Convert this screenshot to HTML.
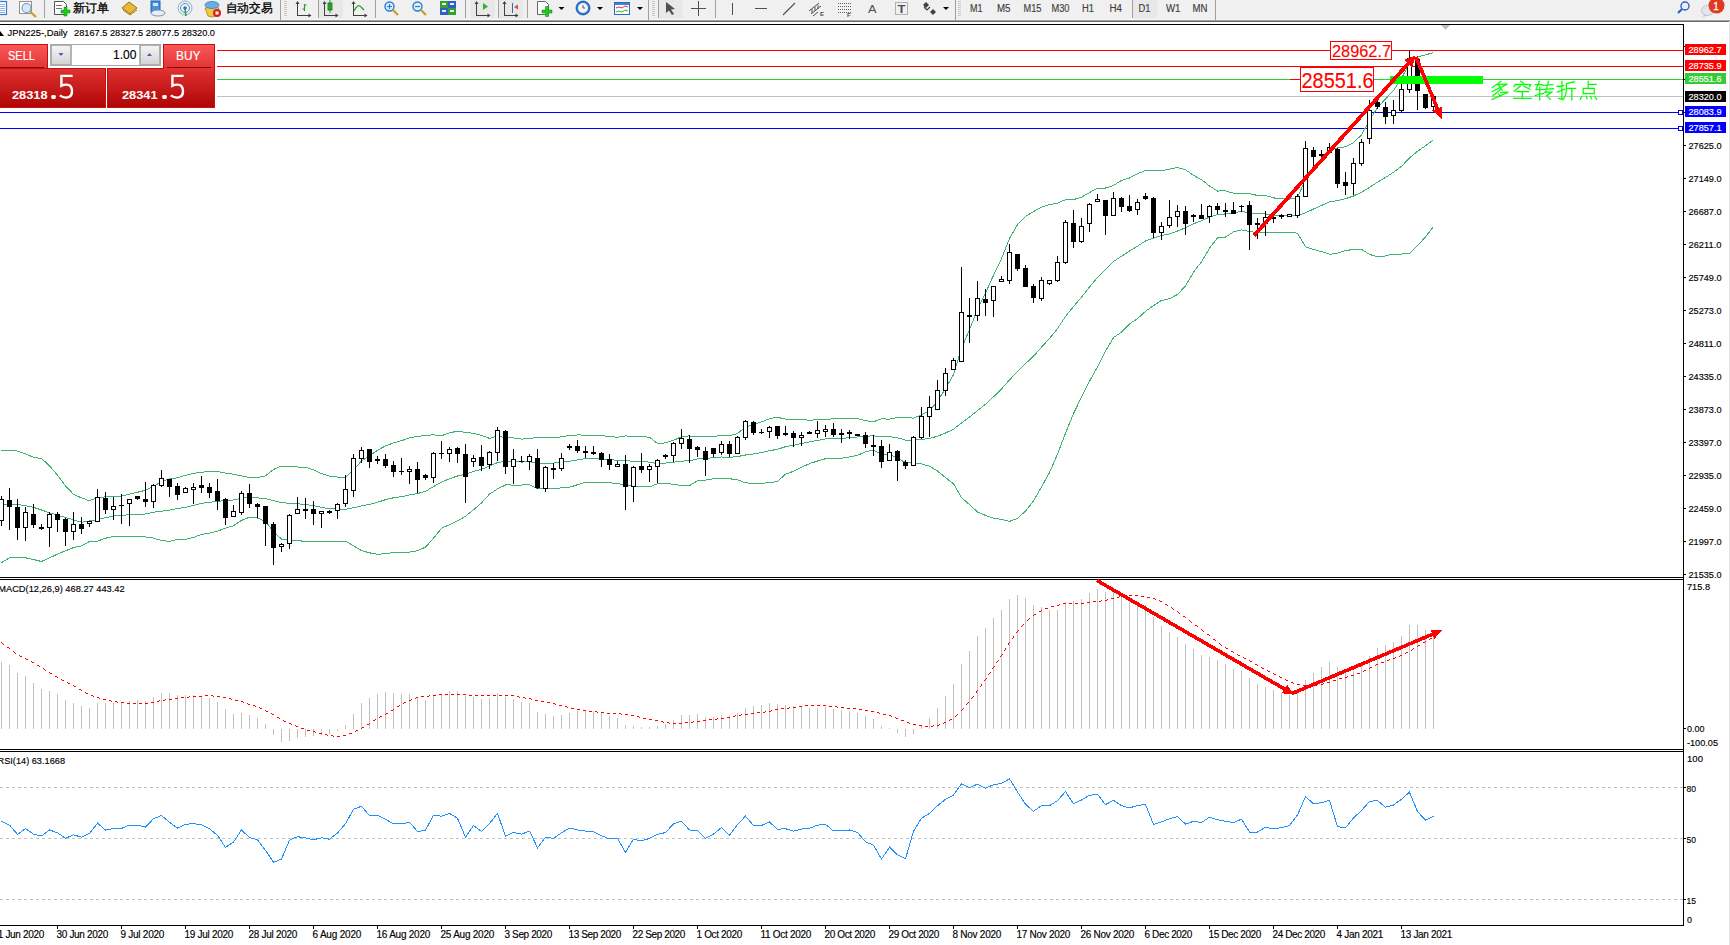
<!DOCTYPE html>
<html><head><meta charset="utf-8">
<style>
html,body{margin:0;padding:0;background:#fff;}
body{width:1730px;height:945px;overflow:hidden;position:relative;font-family:"Liberation Sans",sans-serif;}
svg{position:absolute;left:0;top:0;display:block;}
text{font-family:"Liberation Sans",sans-serif;}
</style></head><body>
<svg width="1730" height="945" viewBox="0 0 1730 945">
<g>
<rect x="0" y="0" width="1730" height="19" fill="#f0f0f0" shape-rendering="crispEdges"/>
<rect x="0" y="19" width="1730" height="1" fill="#f6f6f6" shape-rendering="crispEdges"/>
<rect x="0" y="20" width="1730" height="1" fill="#a0a0a0" shape-rendering="crispEdges"/>
<rect x="0" y="21" width="1729" height="1" fill="#6a6a6a" shape-rendering="crispEdges"/>
<rect x="44" y="0" width="1" height="18" fill="#a0a0a0" shape-rendering="crispEdges"/>
<rect x="280" y="0" width="1" height="20" fill="#a0a0a0" shape-rendering="crispEdges"/>
<rect x="318" y="0" width="1" height="18" fill="#a0a0a0" shape-rendering="crispEdges"/>
<rect x="375" y="0" width="1" height="18" fill="#a0a0a0" shape-rendering="crispEdges"/>
<rect x="465" y="0" width="1" height="18" fill="#a0a0a0" shape-rendering="crispEdges"/>
<rect x="498" y="0" width="1" height="18" fill="#a0a0a0" shape-rendering="crispEdges"/>
<rect x="527" y="0" width="1" height="18" fill="#a0a0a0" shape-rendering="crispEdges"/>
<rect x="648" y="0" width="1" height="20" fill="#a0a0a0" shape-rendering="crispEdges"/>
<rect x="658" y="0" width="1" height="18" fill="#a0a0a0" shape-rendering="crispEdges"/>
<rect x="715" y="0" width="1" height="18" fill="#a0a0a0" shape-rendering="crispEdges"/>
<rect x="955" y="0" width="1" height="20" fill="#a0a0a0" shape-rendering="crispEdges"/>
<rect x="1132" y="0" width="1" height="18" fill="#a0a0a0" shape-rendering="crispEdges"/>
<rect x="1215" y="0" width="1" height="20" fill="#a0a0a0" shape-rendering="crispEdges"/>
<rect x="284" y="1" width="3" height="16" fill="#c8c8c8" shape-rendering="crispEdges"/>
<rect x="284" y="2" width="3" height="1" fill="#f0f0f0" shape-rendering="crispEdges"/>
<rect x="284" y="4" width="3" height="1" fill="#f0f0f0" shape-rendering="crispEdges"/>
<rect x="284" y="6" width="3" height="1" fill="#f0f0f0" shape-rendering="crispEdges"/>
<rect x="284" y="8" width="3" height="1" fill="#f0f0f0" shape-rendering="crispEdges"/>
<rect x="284" y="10" width="3" height="1" fill="#f0f0f0" shape-rendering="crispEdges"/>
<rect x="284" y="12" width="3" height="1" fill="#f0f0f0" shape-rendering="crispEdges"/>
<rect x="284" y="14" width="3" height="1" fill="#f0f0f0" shape-rendering="crispEdges"/>
<rect x="284" y="16" width="3" height="1" fill="#f0f0f0" shape-rendering="crispEdges"/>
<rect x="652" y="1" width="3" height="16" fill="#c8c8c8" shape-rendering="crispEdges"/>
<rect x="652" y="2" width="3" height="1" fill="#f0f0f0" shape-rendering="crispEdges"/>
<rect x="652" y="4" width="3" height="1" fill="#f0f0f0" shape-rendering="crispEdges"/>
<rect x="652" y="6" width="3" height="1" fill="#f0f0f0" shape-rendering="crispEdges"/>
<rect x="652" y="8" width="3" height="1" fill="#f0f0f0" shape-rendering="crispEdges"/>
<rect x="652" y="10" width="3" height="1" fill="#f0f0f0" shape-rendering="crispEdges"/>
<rect x="652" y="12" width="3" height="1" fill="#f0f0f0" shape-rendering="crispEdges"/>
<rect x="652" y="14" width="3" height="1" fill="#f0f0f0" shape-rendering="crispEdges"/>
<rect x="652" y="16" width="3" height="1" fill="#f0f0f0" shape-rendering="crispEdges"/>
<rect x="958" y="1" width="3" height="16" fill="#c8c8c8" shape-rendering="crispEdges"/>
<rect x="958" y="2" width="3" height="1" fill="#f0f0f0" shape-rendering="crispEdges"/>
<rect x="958" y="4" width="3" height="1" fill="#f0f0f0" shape-rendering="crispEdges"/>
<rect x="958" y="6" width="3" height="1" fill="#f0f0f0" shape-rendering="crispEdges"/>
<rect x="958" y="8" width="3" height="1" fill="#f0f0f0" shape-rendering="crispEdges"/>
<rect x="958" y="10" width="3" height="1" fill="#f0f0f0" shape-rendering="crispEdges"/>
<rect x="958" y="12" width="3" height="1" fill="#f0f0f0" shape-rendering="crispEdges"/>
<rect x="958" y="14" width="3" height="1" fill="#f0f0f0" shape-rendering="crispEdges"/>
<rect x="958" y="16" width="3" height="1" fill="#f0f0f0" shape-rendering="crispEdges"/>
<rect x="319" y="0" width="24" height="18" fill="#e8e8e8" shape-rendering="crispEdges"/>
<rect x="471" y="0" width="24" height="18" fill="#e8e8e8" shape-rendering="crispEdges"/>
<rect x="499" y="0" width="24" height="18" fill="#e8e8e8" shape-rendering="crispEdges"/>
<rect x="659" y="0" width="24" height="18" fill="#e8e8e8" shape-rendering="crispEdges"/>
<rect x="1133" y="0" width="24" height="18" fill="#e8e8e8" shape-rendering="crispEdges"/>
<rect x="-3.5" y="1.5" width="10" height="13" fill="#fff" stroke="#3a7cc8" stroke-width="1.2"/>
<rect x="0" y="4" width="5" height="1" fill="#8fb4e8"/>
<rect x="0" y="6" width="5" height="1" fill="#8fb4e8"/>
<rect x="0" y="8" width="5" height="1" fill="#8fb4e8"/>
<rect x="0" y="10" width="5" height="1" fill="#8fb4e8"/>
<rect x="0" y="12" width="5" height="1" fill="#8fb4e8"/>
<rect x="19.5" y="1.5" width="12" height="12" fill="#fff" stroke="#9a9080" stroke-width="1"/>
<circle cx="26.5" cy="8" r="4.5" fill="#d8e8f8" stroke="#6a9ad0" stroke-width="1.2"/>
<line x1="30" y1="11.5" x2="36" y2="17" stroke="#c8a020" stroke-width="2.2"/>
<path d="M54.5,1.5 h9 l3,3 v10 h-12 z" fill="#fff" stroke="#555" stroke-width="1"/>
<rect x="56" y="5" width="6" height="1" fill="#777"/><rect x="56" y="8" width="6" height="1" fill="#777"/>
<path d="M61,10 h3 v-3 h3 v3 h3 v3 h-3 v3 h-3 v-3 h-3 z" fill="#1ec81e" stroke="#108010" stroke-width="0.5"/>
<text x="73" y="12" font-size="12" fill="#000" stroke="#000" stroke-width="0.3" textLength="36" lengthAdjust="spacingAndGlyphs">新订单</text>
<path d="M122,8 l7,-6 l8,6 l-7,6 z" fill="#e8b838" stroke="#9a7010" stroke-width="1"/>
<path d="M123,10 l7,5 l7,-5" fill="none" stroke="#b08020" stroke-width="1"/>
<rect x="151" y="1" width="9" height="11" fill="#4a90e0" stroke="#2060b0" stroke-width="1"/>
<rect x="153" y="3" width="5" height="3" fill="#d0e4ff"/>
<ellipse cx="158" cy="13" rx="7" ry="3" fill="#e8eef6" stroke="#8090a8" stroke-width="1"/>
<circle cx="185" cy="8" r="7" fill="none" stroke="#8ab0d8" stroke-width="1"/>
<circle cx="185" cy="8" r="4.5" fill="none" stroke="#5a90c8" stroke-width="1"/>
<circle cx="185" cy="8" r="1.8" fill="#2a70c0"/>
<line x1="185" y1="9" x2="186" y2="16" stroke="#30a030" stroke-width="1.5"/>
<path d="M205,8 q6,-2 14,0 l-3,8 q-4,2 -8,0 z" fill="#f0c840" stroke="#b08810" stroke-width="0.8"/>
<ellipse cx="212" cy="5" rx="7" ry="3.5" fill="#6aaee0" stroke="#3a80c0" stroke-width="0.8"/>
<circle cx="217" cy="13" r="4" fill="#d82020"/><rect x="215.5" y="11.5" width="3" height="3" fill="#fff"/>
<text x="225.5" y="12" font-size="12" fill="#000" stroke="#000" stroke-width="0.3" textLength="47" lengthAdjust="spacingAndGlyphs">自动交易</text>
<g stroke="#404040" stroke-width="1" fill="none" shape-rendering="crispEdges">
<path d="M297.5,2 v13.5 h13"/><path d="M324.5,2 v13.5 h13"/><path d="M353.5,2 v13.5 h13"/>
<path d="M476.5,2 v13.5 h13"/><path d="M504.5,2 v13.5 h13"/>
</g>
<polygon points="295.5,4 299.5,4 297.5,1" fill="#404040"/><polygon points="308.5,13.5 308.5,17.5 311.5,15.5" fill="#404040"/>
<polygon points="322.5,4 326.5,4 324.5,1" fill="#404040"/><polygon points="335.5,13.5 335.5,17.5 338.5,15.5" fill="#404040"/>
<polygon points="351.5,4 355.5,4 353.5,1" fill="#404040"/><polygon points="364.5,13.5 364.5,17.5 367.5,15.5" fill="#404040"/>
<polygon points="474.5,4 478.5,4 476.5,1" fill="#404040"/><polygon points="487.5,13.5 487.5,17.5 490.5,15.5" fill="#404040"/>
<polygon points="502.5,4 506.5,4 504.5,1" fill="#404040"/><polygon points="515.5,13.5 515.5,17.5 518.5,15.5" fill="#404040"/>
<path d="M304.5,4 v7 M304.5,9 h-2 M304.5,5 h2" stroke="#20a020" stroke-width="1.2" fill="none"/>
<rect x="328" y="3" width="4" height="7" fill="#30c030" stroke="#107010" stroke-width="0.8"/><line x1="330" y1="0" x2="330" y2="13" stroke="#107010" stroke-width="0.8"/>
<path d="M354,11 q4,-8 7,-4 l3,3" fill="none" stroke="#20a020" stroke-width="1.2"/>
<circle cx="389.5" cy="6.5" r="4.5" fill="#e0f0ff" stroke="#2a7ad0" stroke-width="1.4"/><path d="M387,6.5 h5 M389.5,4 v5" stroke="#2a7ad0" stroke-width="1.2"/>
<line x1="393" y1="10" x2="398" y2="15" stroke="#c8a020" stroke-width="2.2"/>
<circle cx="417.5" cy="6.5" r="4.5" fill="#e0f0ff" stroke="#2a7ad0" stroke-width="1.4"/><path d="M415,6.5 h5" stroke="#2a7ad0" stroke-width="1.2"/>
<line x1="421" y1="10" x2="426" y2="15" stroke="#c8a020" stroke-width="2.2"/>
<rect x="440" y="1" width="8" height="7" fill="#30a030"/><rect x="448" y="1" width="8" height="7" fill="#3060c0"/><rect x="440" y="8" width="8" height="7" fill="#3060c0"/><rect x="448" y="8" width="8" height="7" fill="#30a030"/>
<g fill="#e8f0ff"><rect x="442" y="3" width="4" height="2"/><rect x="450" y="3" width="4" height="2"/><rect x="442" y="10" width="4" height="2"/><rect x="450" y="10" width="4" height="2"/></g>
<polygon points="483,3 483,10 488,6.5" fill="#30b030"/>
<rect x="512" y="3" width="1" height="10" fill="#2a6ac0"/><polygon points="514,7 518,4.5 518,9.5" fill="#e05020"/>
<path d="M537.5,1.5 h8 l3,3 v10 h-11 z" fill="#fff" stroke="#666" stroke-width="1"/>
<path d="M542,10 h3.5 v-3.5 h3 v3.5 h3.5 v3 h-3.5 v3.5 h-3 v-3.5 h-3.5 z" fill="#1ec81e" stroke="#108010" stroke-width="0.5"/>
<polygon points="558.5,7 564.5,7 561.5,10" fill="#000"/>
<polygon points="597,7 603,7 600,10" fill="#000"/>
<polygon points="637,7 643,7 640,10" fill="#000"/>
<circle cx="583" cy="8" r="7" fill="#2a7ad8" stroke="#1a50a0" stroke-width="0.8"/><circle cx="583" cy="8" r="5" fill="#f4f4f4"/><path d="M583,5 v3 h2" stroke="#333" stroke-width="0.8" fill="none"/>
<rect x="614.5" y="2.5" width="15" height="12" fill="#fff" stroke="#2a6ac0" stroke-width="1"/><rect x="615" y="3" width="14" height="2" fill="#4a80d0"/>
<path d="M616,8 l3,-1 l3,1 l3,-2 l3,1" stroke="#c03020" stroke-width="0.9" fill="none"/><path d="M616,12 l3,-1 l3,1 l3,-2 l3,1" stroke="#20a020" stroke-width="0.9" fill="none"/>
<polygon points="666,2 666,13 669,10.5 672,15 674,14 671,9.5 675,9" fill="#505050"/>
<g fill="#505050" shape-rendering="crispEdges"><rect x="698" y="1" width="1" height="15"/><rect x="691" y="8" width="15" height="1"/>
<rect x="732" y="3" width="1" height="12"/><rect x="755" y="8" width="12" height="1"/></g>
<line x1="783" y1="15" x2="795" y2="3" stroke="#505050" stroke-width="1.1"/>
<g stroke="#505050" stroke-width="1" fill="none"><path d="M809,11 l10,-8 M811,14 l10,-8 M813,16 l5,-4"/><path d="M812,9 v4 M815,7 v4 M818,5 v4"/></g>
<text x="820" y="16" font-size="6" font-weight="bold" fill="#505050">E</text>
<g fill="#606060" shape-rendering="crispEdges">
<rect x="838" y="3" width="1" height="1"/>
<rect x="840" y="3" width="1" height="1"/>
<rect x="842" y="3" width="1" height="1"/>
<rect x="844" y="3" width="1" height="1"/>
<rect x="846" y="3" width="1" height="1"/>
<rect x="848" y="3" width="1" height="1"/>
<rect x="850" y="3" width="1" height="1"/>
<rect x="838" y="6" width="1" height="1"/>
<rect x="840" y="6" width="1" height="1"/>
<rect x="842" y="6" width="1" height="1"/>
<rect x="844" y="6" width="1" height="1"/>
<rect x="846" y="6" width="1" height="1"/>
<rect x="848" y="6" width="1" height="1"/>
<rect x="850" y="6" width="1" height="1"/>
<rect x="838" y="9" width="1" height="1"/>
<rect x="840" y="9" width="1" height="1"/>
<rect x="842" y="9" width="1" height="1"/>
<rect x="844" y="9" width="1" height="1"/>
<rect x="846" y="9" width="1" height="1"/>
<rect x="848" y="9" width="1" height="1"/>
<rect x="850" y="9" width="1" height="1"/>
<rect x="838" y="12" width="1" height="1"/>
<rect x="840" y="12" width="1" height="1"/>
<rect x="842" y="12" width="1" height="1"/>
<rect x="844" y="12" width="1" height="1"/>
<rect x="846" y="12" width="1" height="1"/>
<rect x="848" y="12" width="1" height="1"/>
<rect x="850" y="12" width="1" height="1"/>
</g>
<text x="847" y="17" font-size="6" font-weight="bold" fill="#505050">F</text>
<text x="868" y="12.5" font-size="11" fill="#505050" textLength="8.5" lengthAdjust="spacingAndGlyphs">A</text>
<rect x="895.5" y="2.5" width="12" height="12" fill="none" stroke="#707070" stroke-width="1" stroke-dasharray="1,1"/>
<text x="897.5" y="12.5" font-size="11" font-weight="bold" fill="#505050" textLength="8" lengthAdjust="spacingAndGlyphs">T</text>
<polygon points="923,5 926,2 929,5 926,8" fill="#404040"/><polygon points="930,12 933,9 936,12 933,15" fill="#404040"/><path d="M924,7 l3,3 l3,-3" stroke="#404040" stroke-width="1.2" fill="none"/>
<polygon points="943,7 949,7 946,10" fill="#000"/>
<text x="970" y="12.3" font-size="10" fill="#404040" text-anchor="start" textLength="12.5" lengthAdjust="spacingAndGlyphs" stroke="#404040" stroke-width="0.15" >M1</text>
<text x="997" y="12.3" font-size="10" fill="#404040" text-anchor="start" textLength="13.5" lengthAdjust="spacingAndGlyphs" stroke="#404040" stroke-width="0.15" >M5</text>
<text x="1023.5" y="12.3" font-size="10" fill="#404040" text-anchor="start" textLength="18" lengthAdjust="spacingAndGlyphs" stroke="#404040" stroke-width="0.15" >M15</text>
<text x="1051.5" y="12.3" font-size="10" fill="#404040" text-anchor="start" textLength="18" lengthAdjust="spacingAndGlyphs" stroke="#404040" stroke-width="0.15" >M30</text>
<text x="1082" y="12.3" font-size="10" fill="#404040" text-anchor="start" textLength="12" lengthAdjust="spacingAndGlyphs" stroke="#404040" stroke-width="0.15" >H1</text>
<text x="1109.5" y="12.3" font-size="10" fill="#404040" text-anchor="start" textLength="12.5" lengthAdjust="spacingAndGlyphs" stroke="#404040" stroke-width="0.15" >H4</text>
<text x="1138.5" y="12.3" font-size="10" fill="#404040" text-anchor="start" textLength="12" lengthAdjust="spacingAndGlyphs" stroke="#404040" stroke-width="0.15" >D1</text>
<text x="1166" y="12.3" font-size="10" fill="#404040" text-anchor="start" textLength="14.5" lengthAdjust="spacingAndGlyphs" stroke="#404040" stroke-width="0.15" >W1</text>
<text x="1192.5" y="12.3" font-size="10" fill="#404040" text-anchor="start" textLength="15" lengthAdjust="spacingAndGlyphs" stroke="#404040" stroke-width="0.15" >MN</text>
<circle cx="1685" cy="6" r="4" fill="none" stroke="#2a60d0" stroke-width="1.4"/><line x1="1682" y1="9" x2="1678" y2="13" stroke="#2a60d0" stroke-width="2.2"/>
<path d="M1704,14.5 l-1,3 l4,-2.5 z" fill="#c8c8d0"/><ellipse cx="1707.5" cy="10.5" rx="6" ry="5" fill="#e4e4ec" stroke="#b8b8c0" stroke-width="0.8"/>
<circle cx="1716.5" cy="5.5" r="8" fill="#e03a20"/>
<text x="1713.2" y="10" font-size="11" fill="#fff" stroke="#fff" stroke-width="0.3" textLength="5.5" lengthAdjust="spacingAndGlyphs">1</text>
</g>
<g shape-rendering="crispEdges">
<rect x="0" y="22" width="1729" height="923" fill="#fff"/>
<rect x="1729" y="21" width="1" height="924" fill="#e3e3e3"/>
<rect x="0" y="24" width="1684" height="1" fill="#000"/>
<rect x="0" y="577" width="1684" height="1" fill="#000"/>
<rect x="0" y="579" width="1684" height="1" fill="#000"/>
<rect x="0" y="749" width="1684" height="1" fill="#000"/>
<rect x="0" y="751" width="1684" height="1" fill="#000"/>
<rect x="0" y="925" width="1684" height="1" fill="#000"/>
<rect x="1683" y="24" width="1" height="902" fill="#000"/>
</g>
<g shape-rendering="crispEdges">
<rect x="0" y="96" width="1683" height="1" fill="#c0c0c0"/>
<rect x="0" y="112" width="1678" height="1" fill="#0000ff"/>
<rect x="0" y="128" width="1678" height="1" fill="#0000ff"/>
<rect x="1678.5" y="110.5" width="4" height="4" fill="#fff" stroke="#0000ff" stroke-width="1"/>
<rect x="1678.5" y="126.5" width="4" height="4" fill="#fff" stroke="#0000ff" stroke-width="1"/>
<rect x="0" y="79" width="1290" height="1" fill="#32cd32"/>
<rect x="1290" y="79" width="10" height="1" fill="#ff0000"/>
<rect x="1374" y="79" width="309" height="1" fill="#32cd32"/>
<rect x="0" y="50" width="1330" height="1" fill="#ff0000"/>
<rect x="1392" y="50" width="291" height="1" fill="#ff0000"/>
<rect x="0" y="66" width="1683" height="1" fill="#ff0000"/>
</g>
<polyline points="1.5,450.45 9.5,450.74 17.5,451.03 25.5,453.8 33.5,457.28 41.5,458.5 49.5,465.79 57.5,475.23 65.5,485.78 73.5,494.29 81.5,497.9 89.5,500.76 97.5,497.42 105.5,496.95 113.5,496.74 121.5,495.93 129.5,494.15 137.5,492.28 145.5,490.25 153.5,486.29 161.5,481.72 169.5,478.92 177.5,477.73 185.5,475.32 193.5,473.34 201.5,472.36 209.5,471.41 217.5,471.54 225.5,473.19 233.5,474.22 241.5,475.99 249.5,477.52 257.5,477.58 265.5,475.83 273.5,469.4 281.5,466.05 289.5,466.5 297.5,466.98 305.5,467.31 313.5,469.63 321.5,473.56 329.5,476.12 337.5,477.1 345.5,477.28 353.5,469.85 361.5,461.01 369.5,455.79 377.5,450.25 385.5,445.88 393.5,442.89 401.5,440.72 409.5,437.82 417.5,436.4 425.5,435.49 433.5,434.83 441.5,435.73 449.5,432.89 457.5,431.14 465.5,432.39 473.5,433.25 481.5,435.53 489.5,438.34 497.5,436.08 505.5,437.81 513.5,437.88 521.5,439.08 529.5,438.63 537.5,437.31 545.5,437.33 553.5,437.36 561.5,436.91 569.5,435.31 577.5,434.99 585.5,435.03 593.5,435.13 601.5,435.52 609.5,436.64 617.5,437.23 625.5,435.93 633.5,436.27 641.5,436.26 649.5,437.27 657.5,443.54 665.5,442.9 673.5,440.33 681.5,436.7 689.5,435.88 697.5,436.97 705.5,436.93 713.5,436.71 721.5,435.18 729.5,435.82 737.5,433.5 745.5,427.17 753.5,424.51 761.5,421.94 769.5,418.67 777.5,417.27 785.5,419.22 793.5,419.18 801.5,419.71 809.5,420.17 817.5,419.76 825.5,419.27 833.5,418.89 841.5,418.68 849.5,418.45 857.5,418.59 865.5,420.7 873.5,421.72 881.5,418.86 889.5,419.13 897.5,417.36 905.5,417.71 913.5,418.1 921.5,415.01 929.5,410.65 937.5,401.22 945.5,388.56 953.5,374.56 961.5,348.39 969.5,329.67 977.5,309.13 985.5,293.02 993.5,275.32 1001.5,258.63 1009.5,238.43 1017.5,224.69 1025.5,216.39 1033.5,211.5 1041.5,207.33 1049.5,204.55 1057.5,203.17 1065.5,199.63 1073.5,199.63 1081.5,197.15 1089.5,192.6 1097.5,188.16 1105.5,188.02 1113.5,185.45 1121.5,180.37 1129.5,178.03 1137.5,173.62 1145.5,170.58 1153.5,170.99 1161.5,170.84 1169.5,169.06 1177.5,167.52 1185.5,169.78 1193.5,175.36 1201.5,179.74 1209.5,185.93 1217.5,191.05 1225.5,190.79 1233.5,193.29 1241.5,193.23 1249.5,193.75 1257.5,195.41 1265.5,195.43 1273.5,197.9 1281.5,198.79 1289.5,199.05 1297.5,197.6 1305.5,179 1313.5,168.67 1321.5,159.33 1329.5,149.65 1337.5,147.91 1345.5,146.79 1353.5,142.58 1361.5,134.95 1369.5,120.34 1377.5,107.55 1385.5,98.99 1393.5,90.46 1401.5,78.63 1409.5,62.73 1417.5,56.98 1425.5,54.8 1433.5,52.72" fill="none" stroke="#3cb371" stroke-width="1" shape-rendering="crispEdges"/>
<polyline points="1.5,504.95 9.5,504.7 17.5,504.46 25.5,505.67 33.5,507.3 41.5,510 49.5,512.75 57.5,515.14 65.5,517.53 73.5,519.86 81.5,522.2 89.5,521.01 97.5,519.7 105.5,517.68 113.5,516.05 121.5,515.25 129.5,514.8 137.5,514.8 145.5,513.95 153.5,512.2 161.5,511.15 169.5,510.15 177.5,508.5 185.5,507.3 193.5,505.4 201.5,503.35 209.5,502.3 217.5,501.35 225.5,500.65 233.5,500 241.5,498.2 249.5,497.35 257.5,497.85 265.5,498.55 273.5,500.65 281.5,502.55 289.5,503.35 297.5,503.85 305.5,504.3 313.5,505.75 321.5,507.4 329.5,508.7 337.5,509.15 345.5,509.2 353.5,507.75 361.5,505.85 369.5,504.3 377.5,502.3 385.5,499.7 393.5,497.75 401.5,496.7 409.5,494.95 417.5,493.6 425.5,491.3 433.5,486.55 441.5,482.05 449.5,478.75 457.5,476 465.5,474.3 473.5,471.5 481.5,469.25 489.5,466.2 497.5,462.5 505.5,461.4 513.5,461.45 521.5,462.05 529.5,461.75 537.5,463.1 545.5,463.15 553.5,463.05 561.5,462.35 569.5,461.3 577.5,459.85 585.5,458.6 593.5,458.65 601.5,458.95 609.5,459.75 617.5,460.25 625.5,460.75 633.5,461.2 641.5,461.4 649.5,462.1 657.5,463.6 665.5,463.1 673.5,462.3 681.5,461.1 689.5,460.75 697.5,458.85 705.5,458.5 713.5,457.7 721.5,457 729.5,457.3 737.5,456.6 745.5,455 753.5,453.95 761.5,452.6 769.5,450.7 777.5,449.3 785.5,446.7 793.5,445.25 801.5,443.5 809.5,441.9 817.5,440.4 825.5,439 833.5,438.6 841.5,438.45 849.5,437.7 857.5,437 865.5,436.2 873.5,435.85 881.5,436.75 889.5,436.65 897.5,437.85 905.5,440.1 913.5,440.3 921.5,439.45 929.5,438.45 937.5,436.15 945.5,433.05 953.5,429.15 961.5,423 969.5,417.15 977.5,410.55 985.5,404.25 993.5,396.8 1001.5,389 1009.5,379.9 1017.5,371.55 1025.5,363.7 1033.5,356.25 1041.5,347.15 1049.5,338.55 1057.5,328.6 1065.5,316.4 1073.5,306.65 1081.5,297.15 1089.5,287 1097.5,277.45 1105.5,269.6 1113.5,261.5 1121.5,256.25 1129.5,250.95 1137.5,246.15 1145.5,240.95 1153.5,238.3 1161.5,235.65 1169.5,233.9 1177.5,231 1185.5,227.85 1193.5,223.8 1201.5,220.75 1209.5,217.05 1217.5,214.45 1225.5,213.95 1233.5,212.55 1241.5,211.6 1249.5,212.65 1257.5,213.95 1265.5,214 1273.5,215.05 1281.5,215.55 1289.5,215.7 1297.5,215.4 1305.5,212.85 1313.5,209.05 1321.5,205.45 1329.5,201.95 1337.5,200.6 1345.5,198.7 1353.5,196 1361.5,192.15 1369.5,187.35 1377.5,182.2 1385.5,177.45 1393.5,172.25 1401.5,166.35 1409.5,158 1417.5,151.3 1425.5,145.85 1433.5,139.7" fill="none" stroke="#3cb371" stroke-width="1" shape-rendering="crispEdges"/>
<polyline points="1.5,562.71 9.5,557.8 17.5,557.8 25.5,557.8 33.5,559.5 41.5,561.5 49.5,557.81 57.5,554.13 65.5,550.81 73.5,547.6 81.5,545.9 89.5,541.5 97.5,541.08 105.5,538.25 113.5,536.3 121.5,536.3 129.5,536.47 137.5,536.85 145.5,537 153.5,538.11 161.5,540.58 169.5,541.38 177.5,539.27 185.5,539.28 193.5,537.46 201.5,534.34 209.5,533.19 217.5,531.16 225.5,528.11 233.5,525.78 241.5,520.41 249.5,517.18 257.5,518.12 265.5,521.27 273.5,531.9 281.5,539.05 289.5,540.2 297.5,540.72 305.5,541.29 313.5,541.87 321.5,541.24 329.5,541.28 337.5,541.2 345.5,541.12 353.5,545.65 361.5,550.69 369.5,552.81 377.5,554.35 385.5,553.52 393.5,552.61 401.5,552.68 409.5,552.08 417.5,550.8 425.5,547.11 433.5,538.27 441.5,528.37 449.5,524.61 457.5,520.86 465.5,516.21 473.5,509.75 481.5,502.97 489.5,494.06 497.5,488.92 505.5,484.99 513.5,485.02 521.5,485.02 529.5,484.87 537.5,488.89 545.5,488.97 553.5,488.74 561.5,487.79 569.5,487.29 577.5,484.71 585.5,482.17 593.5,482.17 601.5,482.38 609.5,482.86 617.5,483.27 625.5,485.57 633.5,486.13 641.5,486.54 649.5,486.93 657.5,483.66 665.5,483.3 673.5,484.27 681.5,485.5 689.5,485.62 697.5,480.73 705.5,480.07 713.5,478.69 721.5,478.82 729.5,478.78 737.5,479.7 745.5,482.83 753.5,483.39 761.5,483.26 769.5,482.73 777.5,481.33 785.5,474.18 793.5,471.32 801.5,467.29 809.5,463.63 817.5,461.04 825.5,458.73 833.5,458.31 841.5,458.22 849.5,456.95 857.5,455.41 865.5,451.7 873.5,449.98 881.5,454.64 889.5,454.17 897.5,458.34 905.5,462.49 913.5,462.5 921.5,463.89 929.5,466.25 937.5,471.08 945.5,477.54 953.5,483.74 961.5,497.61 969.5,504.63 977.5,511.97 985.5,515.48 993.5,518.28 1001.5,519.37 1009.5,521.37 1017.5,518.41 1025.5,511.01 1033.5,501 1041.5,486.97 1049.5,472.55 1057.5,454.03 1065.5,433.17 1073.5,413.67 1081.5,397.15 1089.5,381.4 1097.5,366.74 1105.5,351.18 1113.5,337.55 1121.5,332.13 1129.5,323.87 1137.5,318.68 1145.5,311.32 1153.5,305.61 1161.5,300.46 1169.5,298.74 1177.5,294.48 1185.5,285.92 1193.5,272.24 1201.5,261.76 1209.5,248.17 1217.5,237.85 1225.5,237.11 1233.5,231.81 1241.5,229.97 1249.5,231.55 1257.5,232.49 1265.5,232.57 1273.5,232.2 1281.5,232.31 1289.5,232.35 1297.5,233.2 1305.5,246.7 1313.5,249.43 1321.5,251.57 1329.5,254.25 1337.5,253.29 1345.5,250.61 1353.5,249.42 1361.5,249.35 1369.5,254.36 1377.5,256.85 1385.5,255.91 1393.5,254.04 1401.5,254.07 1409.5,253.27 1417.5,245.62 1425.5,236.9 1433.5,226.68" fill="none" stroke="#3cb371" stroke-width="1" shape-rendering="crispEdges"/>
<g shape-rendering="crispEdges">
<rect x="1" y="496" width="1" height="30" fill="#000"/>
<rect x="-0.5" y="499.5" width="4" height="21" fill="#fff" stroke="#000" stroke-width="1"/>
<rect x="9" y="488" width="1" height="42" fill="#000"/>
<rect x="7" y="500" width="5" height="7" fill="#000"/>
<rect x="17" y="499" width="1" height="41" fill="#000"/>
<rect x="15" y="507" width="5" height="21" fill="#000"/>
<rect x="25" y="507" width="1" height="34" fill="#000"/>
<rect x="23.5" y="512.5" width="4" height="15" fill="#fff" stroke="#000" stroke-width="1"/>
<rect x="33" y="504" width="1" height="24" fill="#000"/>
<rect x="31" y="514" width="5" height="11" fill="#000"/>
<rect x="41" y="524" width="1" height="6" fill="#000"/>
<rect x="39" y="527" width="5" height="2" fill="#000"/>
<rect x="49" y="512" width="1" height="35" fill="#000"/>
<rect x="47.5" y="514.5" width="4" height="13" fill="#fff" stroke="#000" stroke-width="1"/>
<rect x="57" y="512" width="1" height="20" fill="#000"/>
<rect x="55" y="514" width="5" height="6" fill="#000"/>
<rect x="65" y="518" width="1" height="28" fill="#000"/>
<rect x="63" y="519" width="5" height="13" fill="#000"/>
<rect x="73" y="512" width="1" height="28" fill="#000"/>
<rect x="71.5" y="524.5" width="4" height="7" fill="#fff" stroke="#000" stroke-width="1"/>
<rect x="81" y="517" width="1" height="17" fill="#000"/>
<rect x="79" y="524" width="5" height="5" fill="#000"/>
<rect x="89" y="521" width="1" height="6" fill="#000"/>
<rect x="87.5" y="521.5" width="4" height="2" fill="#fff" stroke="#000" stroke-width="1"/>
<rect x="97" y="489" width="1" height="33" fill="#000"/>
<rect x="95.5" y="497.5" width="4" height="24" fill="#fff" stroke="#000" stroke-width="1"/>
<rect x="105" y="492" width="1" height="22" fill="#000"/>
<rect x="103" y="498" width="5" height="12" fill="#000"/>
<rect x="113" y="497" width="1" height="23" fill="#000"/>
<rect x="111.5" y="506.5" width="4" height="3" fill="#fff" stroke="#000" stroke-width="1"/>
<rect x="121" y="494" width="1" height="30" fill="#000"/>
<rect x="119" y="505" width="5" height="1" fill="#000"/>
<rect x="129" y="499" width="1" height="27" fill="#000"/>
<rect x="127.5" y="499.5" width="4" height="4" fill="#fff" stroke="#000" stroke-width="1"/>
<rect x="137" y="496" width="1" height="4" fill="#000"/>
<rect x="135" y="496" width="5" height="3" fill="#000"/>
<rect x="145" y="482" width="1" height="25" fill="#000"/>
<rect x="143" y="499" width="5" height="3" fill="#000"/>
<rect x="153" y="484" width="1" height="24" fill="#000"/>
<rect x="151.5" y="485.5" width="4" height="16" fill="#fff" stroke="#000" stroke-width="1"/>
<rect x="161" y="470" width="1" height="17" fill="#000"/>
<rect x="159.5" y="478.5" width="4" height="7" fill="#fff" stroke="#000" stroke-width="1"/>
<rect x="169" y="479" width="1" height="18" fill="#000"/>
<rect x="167" y="479" width="5" height="8" fill="#000"/>
<rect x="177" y="483" width="1" height="17" fill="#000"/>
<rect x="175" y="486" width="5" height="9" fill="#000"/>
<rect x="185" y="487" width="1" height="6" fill="#000"/>
<rect x="183.5" y="488.5" width="4" height="4" fill="#fff" stroke="#000" stroke-width="1"/>
<rect x="193" y="483" width="1" height="21" fill="#000"/>
<rect x="191.5" y="487.5" width="4" height="2" fill="#fff" stroke="#000" stroke-width="1"/>
<rect x="201" y="476" width="1" height="17" fill="#000"/>
<rect x="199" y="485" width="5" height="3" fill="#000"/>
<rect x="209" y="483" width="1" height="15" fill="#000"/>
<rect x="207" y="487" width="5" height="6" fill="#000"/>
<rect x="217" y="479" width="1" height="31" fill="#000"/>
<rect x="215" y="491" width="5" height="10" fill="#000"/>
<rect x="225" y="498" width="1" height="27" fill="#000"/>
<rect x="223" y="499" width="5" height="19" fill="#000"/>
<rect x="233" y="505" width="1" height="12" fill="#000"/>
<rect x="231.5" y="511.5" width="4" height="5" fill="#fff" stroke="#000" stroke-width="1"/>
<rect x="241" y="491" width="1" height="24" fill="#000"/>
<rect x="239.5" y="493.5" width="4" height="19" fill="#fff" stroke="#000" stroke-width="1"/>
<rect x="249" y="484" width="1" height="24" fill="#000"/>
<rect x="247" y="493" width="5" height="11" fill="#000"/>
<rect x="257" y="503" width="1" height="15" fill="#000"/>
<rect x="255" y="504" width="5" height="3" fill="#000"/>
<rect x="265" y="506" width="1" height="40" fill="#000"/>
<rect x="263" y="506" width="5" height="18" fill="#000"/>
<rect x="273" y="522" width="1" height="43" fill="#000"/>
<rect x="271" y="524" width="5" height="24" fill="#000"/>
<rect x="281" y="543" width="1" height="9" fill="#000"/>
<rect x="279.5" y="544.5" width="4" height="2" fill="#fff" stroke="#000" stroke-width="1"/>
<rect x="289" y="514" width="1" height="35" fill="#000"/>
<rect x="287.5" y="515.5" width="4" height="28" fill="#fff" stroke="#000" stroke-width="1"/>
<rect x="297" y="497" width="1" height="17" fill="#000"/>
<rect x="295.5" y="509.5" width="4" height="4" fill="#fff" stroke="#000" stroke-width="1"/>
<rect x="305" y="498" width="1" height="21" fill="#000"/>
<rect x="303" y="509" width="5" height="2" fill="#000"/>
<rect x="313" y="501" width="1" height="24" fill="#000"/>
<rect x="311" y="509" width="5" height="5" fill="#000"/>
<rect x="321" y="511" width="1" height="17" fill="#000"/>
<rect x="319.5" y="511.5" width="4" height="2" fill="#fff" stroke="#000" stroke-width="1"/>
<rect x="329" y="510" width="1" height="4" fill="#000"/>
<rect x="327" y="511" width="5" height="2" fill="#000"/>
<rect x="337" y="503" width="1" height="16" fill="#000"/>
<rect x="335.5" y="504.5" width="4" height="6" fill="#fff" stroke="#000" stroke-width="1"/>
<rect x="345" y="475" width="1" height="32" fill="#000"/>
<rect x="343.5" y="489.5" width="4" height="14" fill="#fff" stroke="#000" stroke-width="1"/>
<rect x="353" y="454" width="1" height="43" fill="#000"/>
<rect x="351.5" y="458.5" width="4" height="32" fill="#fff" stroke="#000" stroke-width="1"/>
<rect x="361" y="447" width="1" height="16" fill="#000"/>
<rect x="359.5" y="450.5" width="4" height="8" fill="#fff" stroke="#000" stroke-width="1"/>
<rect x="369" y="449" width="1" height="19" fill="#000"/>
<rect x="367" y="449" width="5" height="13" fill="#000"/>
<rect x="377" y="456" width="1" height="8" fill="#000"/>
<rect x="375" y="459" width="5" height="2" fill="#000"/>
<rect x="385" y="454" width="1" height="14" fill="#000"/>
<rect x="383" y="459" width="5" height="7" fill="#000"/>
<rect x="393" y="461" width="1" height="16" fill="#000"/>
<rect x="391" y="465" width="5" height="7" fill="#000"/>
<rect x="401" y="458" width="1" height="17" fill="#000"/>
<rect x="399" y="471" width="5" height="1" fill="#000"/>
<rect x="409" y="466" width="1" height="18" fill="#000"/>
<rect x="407.5" y="469.5" width="4" height="2" fill="#fff" stroke="#000" stroke-width="1"/>
<rect x="417" y="462" width="1" height="31" fill="#000"/>
<rect x="415" y="469" width="5" height="11" fill="#000"/>
<rect x="425" y="474" width="1" height="6" fill="#000"/>
<rect x="423" y="475" width="5" height="3" fill="#000"/>
<rect x="433" y="452" width="1" height="31" fill="#000"/>
<rect x="431.5" y="453.5" width="4" height="24" fill="#fff" stroke="#000" stroke-width="1"/>
<rect x="441" y="441" width="1" height="18" fill="#000"/>
<rect x="439" y="453" width="5" height="1" fill="#000"/>
<rect x="449" y="447" width="1" height="15" fill="#000"/>
<rect x="447.5" y="449.5" width="4" height="4" fill="#fff" stroke="#000" stroke-width="1"/>
<rect x="457" y="447" width="1" height="16" fill="#000"/>
<rect x="455" y="448" width="5" height="6" fill="#000"/>
<rect x="465" y="444" width="1" height="59" fill="#000"/>
<rect x="463" y="454" width="5" height="23" fill="#000"/>
<rect x="473" y="455" width="1" height="12" fill="#000"/>
<rect x="471.5" y="458.5" width="4" height="3" fill="#fff" stroke="#000" stroke-width="1"/>
<rect x="481" y="445" width="1" height="26" fill="#000"/>
<rect x="479" y="457" width="5" height="9" fill="#000"/>
<rect x="489" y="451" width="1" height="18" fill="#000"/>
<rect x="487.5" y="452.5" width="4" height="12" fill="#fff" stroke="#000" stroke-width="1"/>
<rect x="497" y="427" width="1" height="34" fill="#000"/>
<rect x="495.5" y="430.5" width="4" height="22" fill="#fff" stroke="#000" stroke-width="1"/>
<rect x="505" y="430" width="1" height="44" fill="#000"/>
<rect x="503" y="431" width="5" height="36" fill="#000"/>
<rect x="513" y="449" width="1" height="35" fill="#000"/>
<rect x="511.5" y="459.5" width="4" height="7" fill="#fff" stroke="#000" stroke-width="1"/>
<rect x="521" y="456" width="1" height="6" fill="#000"/>
<rect x="519" y="461" width="5" height="1" fill="#000"/>
<rect x="529" y="454" width="1" height="16" fill="#000"/>
<rect x="527.5" y="456.5" width="4" height="5" fill="#fff" stroke="#000" stroke-width="1"/>
<rect x="537" y="449" width="1" height="40" fill="#000"/>
<rect x="535" y="458" width="5" height="30" fill="#000"/>
<rect x="545" y="466" width="1" height="26" fill="#000"/>
<rect x="543.5" y="467.5" width="4" height="21" fill="#fff" stroke="#000" stroke-width="1"/>
<rect x="553" y="463" width="1" height="16" fill="#000"/>
<rect x="551" y="468" width="5" height="2" fill="#000"/>
<rect x="561" y="453" width="1" height="18" fill="#000"/>
<rect x="559.5" y="458.5" width="4" height="10" fill="#fff" stroke="#000" stroke-width="1"/>
<rect x="569" y="444" width="1" height="6" fill="#000"/>
<rect x="567" y="446" width="5" height="2" fill="#000"/>
<rect x="577" y="440" width="1" height="13" fill="#000"/>
<rect x="575" y="446" width="5" height="5" fill="#000"/>
<rect x="585" y="446" width="1" height="12" fill="#000"/>
<rect x="583" y="451" width="5" height="2" fill="#000"/>
<rect x="593" y="446" width="1" height="9" fill="#000"/>
<rect x="591" y="452" width="5" height="2" fill="#000"/>
<rect x="601" y="452" width="1" height="15" fill="#000"/>
<rect x="599" y="453" width="5" height="7" fill="#000"/>
<rect x="609" y="454" width="1" height="16" fill="#000"/>
<rect x="607" y="459" width="5" height="6" fill="#000"/>
<rect x="617" y="461" width="1" height="6" fill="#000"/>
<rect x="615.5" y="464.5" width="4" height="2" fill="#fff" stroke="#000" stroke-width="1"/>
<rect x="625" y="455" width="1" height="55" fill="#000"/>
<rect x="623" y="464" width="5" height="23" fill="#000"/>
<rect x="633" y="466" width="1" height="36" fill="#000"/>
<rect x="631.5" y="467.5" width="4" height="19" fill="#fff" stroke="#000" stroke-width="1"/>
<rect x="641" y="453" width="1" height="20" fill="#000"/>
<rect x="639" y="466" width="5" height="4" fill="#000"/>
<rect x="649" y="464" width="1" height="18" fill="#000"/>
<rect x="647.5" y="466.5" width="4" height="3" fill="#fff" stroke="#000" stroke-width="1"/>
<rect x="657" y="459" width="1" height="24" fill="#000"/>
<rect x="655.5" y="460.5" width="4" height="6" fill="#fff" stroke="#000" stroke-width="1"/>
<rect x="665" y="454" width="1" height="5" fill="#000"/>
<rect x="663" y="455" width="5" height="2" fill="#000"/>
<rect x="673" y="442" width="1" height="20" fill="#000"/>
<rect x="671.5" y="443.5" width="4" height="12" fill="#fff" stroke="#000" stroke-width="1"/>
<rect x="681" y="429" width="1" height="20" fill="#000"/>
<rect x="679.5" y="438.5" width="4" height="5" fill="#fff" stroke="#000" stroke-width="1"/>
<rect x="689" y="435" width="1" height="28" fill="#000"/>
<rect x="687" y="439" width="5" height="10" fill="#000"/>
<rect x="697" y="446" width="1" height="11" fill="#000"/>
<rect x="695" y="447" width="5" height="3" fill="#000"/>
<rect x="705" y="447" width="1" height="29" fill="#000"/>
<rect x="703" y="451" width="5" height="9" fill="#000"/>
<rect x="713" y="448" width="1" height="9" fill="#000"/>
<rect x="711" y="448" width="5" height="6" fill="#000"/>
<rect x="721" y="441" width="1" height="14" fill="#000"/>
<rect x="719.5" y="444.5" width="4" height="8" fill="#fff" stroke="#000" stroke-width="1"/>
<rect x="729" y="441" width="1" height="16" fill="#000"/>
<rect x="727" y="444" width="5" height="10" fill="#000"/>
<rect x="737" y="436" width="1" height="18" fill="#000"/>
<rect x="735.5" y="437.5" width="4" height="16" fill="#fff" stroke="#000" stroke-width="1"/>
<rect x="745" y="420" width="1" height="20" fill="#000"/>
<rect x="743.5" y="421.5" width="4" height="16" fill="#fff" stroke="#000" stroke-width="1"/>
<rect x="753" y="421" width="1" height="14" fill="#000"/>
<rect x="751" y="422" width="5" height="11" fill="#000"/>
<rect x="761" y="429" width="1" height="5" fill="#000"/>
<rect x="759" y="432" width="5" height="1" fill="#000"/>
<rect x="769" y="426" width="1" height="12" fill="#000"/>
<rect x="767.5" y="427.5" width="4" height="4" fill="#fff" stroke="#000" stroke-width="1"/>
<rect x="777" y="426" width="1" height="13" fill="#000"/>
<rect x="775" y="426" width="5" height="10" fill="#000"/>
<rect x="785" y="426" width="1" height="10" fill="#000"/>
<rect x="783" y="433" width="5" height="2" fill="#000"/>
<rect x="793" y="431" width="1" height="16" fill="#000"/>
<rect x="791" y="433" width="5" height="5" fill="#000"/>
<rect x="801" y="432" width="1" height="14" fill="#000"/>
<rect x="799.5" y="435.5" width="4" height="2" fill="#fff" stroke="#000" stroke-width="1"/>
<rect x="809" y="431" width="1" height="3" fill="#000"/>
<rect x="807" y="432" width="5" height="2" fill="#000"/>
<rect x="817" y="421" width="1" height="17" fill="#000"/>
<rect x="815.5" y="430.5" width="4" height="3" fill="#fff" stroke="#000" stroke-width="1"/>
<rect x="825" y="425" width="1" height="12" fill="#000"/>
<rect x="823.5" y="429.5" width="4" height="2" fill="#fff" stroke="#000" stroke-width="1"/>
<rect x="833" y="423" width="1" height="14" fill="#000"/>
<rect x="831" y="429" width="5" height="6" fill="#000"/>
<rect x="841" y="429" width="1" height="14" fill="#000"/>
<rect x="839" y="433" width="5" height="2" fill="#000"/>
<rect x="849" y="430" width="1" height="9" fill="#000"/>
<rect x="847" y="432" width="5" height="2" fill="#000"/>
<rect x="857" y="434" width="1" height="2" fill="#000"/>
<rect x="855" y="434" width="5" height="2" fill="#000"/>
<rect x="865" y="432" width="1" height="16" fill="#000"/>
<rect x="863" y="435" width="5" height="9" fill="#000"/>
<rect x="873" y="435" width="1" height="21" fill="#000"/>
<rect x="871" y="445" width="5" height="2" fill="#000"/>
<rect x="881" y="440" width="1" height="28" fill="#000"/>
<rect x="879" y="446" width="5" height="16" fill="#000"/>
<rect x="889" y="444" width="1" height="17" fill="#000"/>
<rect x="887.5" y="452.5" width="4" height="8" fill="#fff" stroke="#000" stroke-width="1"/>
<rect x="897" y="450" width="1" height="31" fill="#000"/>
<rect x="895" y="451" width="5" height="10" fill="#000"/>
<rect x="905" y="460" width="1" height="9" fill="#000"/>
<rect x="903" y="462" width="5" height="4" fill="#000"/>
<rect x="913" y="436" width="1" height="30" fill="#000"/>
<rect x="911.5" y="437.5" width="4" height="28" fill="#fff" stroke="#000" stroke-width="1"/>
<rect x="921" y="407" width="1" height="32" fill="#000"/>
<rect x="919.5" y="416.5" width="4" height="21" fill="#fff" stroke="#000" stroke-width="1"/>
<rect x="929" y="396" width="1" height="41" fill="#000"/>
<rect x="927.5" y="407.5" width="4" height="9" fill="#fff" stroke="#000" stroke-width="1"/>
<rect x="937" y="380" width="1" height="30" fill="#000"/>
<rect x="935.5" y="390.5" width="4" height="19" fill="#fff" stroke="#000" stroke-width="1"/>
<rect x="945" y="368" width="1" height="28" fill="#000"/>
<rect x="943.5" y="373.5" width="4" height="17" fill="#fff" stroke="#000" stroke-width="1"/>
<rect x="953" y="358" width="1" height="12" fill="#000"/>
<rect x="951.5" y="360.5" width="4" height="9" fill="#fff" stroke="#000" stroke-width="1"/>
<rect x="961" y="267" width="1" height="95" fill="#000"/>
<rect x="959.5" y="312.5" width="4" height="49" fill="#fff" stroke="#000" stroke-width="1"/>
<rect x="969" y="298" width="1" height="45" fill="#000"/>
<rect x="967" y="315" width="5" height="2" fill="#000"/>
<rect x="977" y="281" width="1" height="40" fill="#000"/>
<rect x="975.5" y="298.5" width="4" height="17" fill="#fff" stroke="#000" stroke-width="1"/>
<rect x="985" y="289" width="1" height="27" fill="#000"/>
<rect x="983" y="299" width="5" height="4" fill="#000"/>
<rect x="993" y="286" width="1" height="31" fill="#000"/>
<rect x="991.5" y="286.5" width="4" height="14" fill="#fff" stroke="#000" stroke-width="1"/>
<rect x="1001" y="276" width="1" height="6" fill="#000"/>
<rect x="999.5" y="279.5" width="4" height="2" fill="#fff" stroke="#000" stroke-width="1"/>
<rect x="1009" y="244" width="1" height="40" fill="#000"/>
<rect x="1007.5" y="252.5" width="4" height="28" fill="#fff" stroke="#000" stroke-width="1"/>
<rect x="1017" y="254" width="1" height="17" fill="#000"/>
<rect x="1015" y="254" width="5" height="15" fill="#000"/>
<rect x="1025" y="265" width="1" height="22" fill="#000"/>
<rect x="1023" y="268" width="5" height="19" fill="#000"/>
<rect x="1033" y="284" width="1" height="19" fill="#000"/>
<rect x="1031" y="286" width="5" height="12" fill="#000"/>
<rect x="1041" y="277" width="1" height="24" fill="#000"/>
<rect x="1039.5" y="280.5" width="4" height="18" fill="#fff" stroke="#000" stroke-width="1"/>
<rect x="1049" y="280" width="1" height="5" fill="#000"/>
<rect x="1047.5" y="280.5" width="4" height="3" fill="#fff" stroke="#000" stroke-width="1"/>
<rect x="1057" y="256" width="1" height="26" fill="#000"/>
<rect x="1055.5" y="262.5" width="4" height="18" fill="#fff" stroke="#000" stroke-width="1"/>
<rect x="1065" y="220" width="1" height="44" fill="#000"/>
<rect x="1063.5" y="222.5" width="4" height="40" fill="#fff" stroke="#000" stroke-width="1"/>
<rect x="1073" y="210" width="1" height="38" fill="#000"/>
<rect x="1071" y="223" width="5" height="19" fill="#000"/>
<rect x="1081" y="218" width="1" height="25" fill="#000"/>
<rect x="1079.5" y="226.5" width="4" height="15" fill="#fff" stroke="#000" stroke-width="1"/>
<rect x="1089" y="203" width="1" height="29" fill="#000"/>
<rect x="1087.5" y="204.5" width="4" height="19" fill="#fff" stroke="#000" stroke-width="1"/>
<rect x="1097" y="194" width="1" height="8" fill="#000"/>
<rect x="1095.5" y="199.5" width="4" height="2" fill="#fff" stroke="#000" stroke-width="1"/>
<rect x="1105" y="200" width="1" height="35" fill="#000"/>
<rect x="1103" y="200" width="5" height="16" fill="#000"/>
<rect x="1113" y="192" width="1" height="24" fill="#000"/>
<rect x="1111.5" y="198.5" width="4" height="17" fill="#fff" stroke="#000" stroke-width="1"/>
<rect x="1121" y="197" width="1" height="15" fill="#000"/>
<rect x="1119" y="198" width="5" height="9" fill="#000"/>
<rect x="1129" y="195" width="1" height="17" fill="#000"/>
<rect x="1127" y="206" width="5" height="5" fill="#000"/>
<rect x="1137" y="199" width="1" height="16" fill="#000"/>
<rect x="1135.5" y="202.5" width="4" height="7" fill="#fff" stroke="#000" stroke-width="1"/>
<rect x="1145" y="193" width="1" height="7" fill="#000"/>
<rect x="1143" y="196" width="5" height="3" fill="#000"/>
<rect x="1153" y="197" width="1" height="41" fill="#000"/>
<rect x="1151" y="198" width="5" height="35" fill="#000"/>
<rect x="1161" y="222" width="1" height="18" fill="#000"/>
<rect x="1159.5" y="226.5" width="4" height="6" fill="#fff" stroke="#000" stroke-width="1"/>
<rect x="1169" y="200" width="1" height="28" fill="#000"/>
<rect x="1167.5" y="217.5" width="4" height="8" fill="#fff" stroke="#000" stroke-width="1"/>
<rect x="1177" y="205" width="1" height="22" fill="#000"/>
<rect x="1175.5" y="211.5" width="4" height="5" fill="#fff" stroke="#000" stroke-width="1"/>
<rect x="1185" y="206" width="1" height="29" fill="#000"/>
<rect x="1183" y="211" width="5" height="13" fill="#000"/>
<rect x="1193" y="214" width="1" height="8" fill="#000"/>
<rect x="1191" y="215" width="5" height="2" fill="#000"/>
<rect x="1201" y="204" width="1" height="15" fill="#000"/>
<rect x="1199" y="215" width="5" height="4" fill="#000"/>
<rect x="1209" y="205" width="1" height="18" fill="#000"/>
<rect x="1207.5" y="206.5" width="4" height="10" fill="#fff" stroke="#000" stroke-width="1"/>
<rect x="1217" y="203" width="1" height="11" fill="#000"/>
<rect x="1215" y="206" width="5" height="4" fill="#000"/>
<rect x="1225" y="203" width="1" height="14" fill="#000"/>
<rect x="1223" y="210" width="5" height="2" fill="#000"/>
<rect x="1233" y="202" width="1" height="12" fill="#000"/>
<rect x="1231" y="210" width="5" height="4" fill="#000"/>
<rect x="1241" y="205" width="1" height="7" fill="#000"/>
<rect x="1239" y="206" width="5" height="1" fill="#000"/>
<rect x="1249" y="201" width="1" height="49" fill="#000"/>
<rect x="1247" y="205" width="5" height="20" fill="#000"/>
<rect x="1257" y="218" width="1" height="21" fill="#000"/>
<rect x="1255" y="223" width="5" height="2" fill="#000"/>
<rect x="1265" y="211" width="1" height="25" fill="#000"/>
<rect x="1263.5" y="217.5" width="4" height="6" fill="#fff" stroke="#000" stroke-width="1"/>
<rect x="1273" y="211" width="1" height="12" fill="#000"/>
<rect x="1271" y="217" width="5" height="2" fill="#000"/>
<rect x="1281" y="214" width="1" height="5" fill="#000"/>
<rect x="1279" y="215" width="5" height="2" fill="#000"/>
<rect x="1289" y="214" width="1" height="3" fill="#000"/>
<rect x="1287.5" y="214.5" width="4" height="2" fill="#fff" stroke="#000" stroke-width="1"/>
<rect x="1297" y="194" width="1" height="24" fill="#000"/>
<rect x="1295.5" y="196.5" width="4" height="19" fill="#fff" stroke="#000" stroke-width="1"/>
<rect x="1305" y="141" width="1" height="56" fill="#000"/>
<rect x="1303.5" y="148.5" width="4" height="48" fill="#fff" stroke="#000" stroke-width="1"/>
<rect x="1313" y="147" width="1" height="20" fill="#000"/>
<rect x="1311" y="150" width="5" height="7" fill="#000"/>
<rect x="1321" y="150" width="1" height="9" fill="#000"/>
<rect x="1319.5" y="154.5" width="4" height="1" fill="#fff" stroke="#000" stroke-width="1"/>
<rect x="1329" y="143" width="1" height="10" fill="#000"/>
<rect x="1327.5" y="147.5" width="4" height="5" fill="#fff" stroke="#000" stroke-width="1"/>
<rect x="1337" y="148" width="1" height="40" fill="#000"/>
<rect x="1335" y="149" width="5" height="35" fill="#000"/>
<rect x="1345" y="172" width="1" height="23" fill="#000"/>
<rect x="1343" y="182" width="5" height="4" fill="#000"/>
<rect x="1353" y="158" width="1" height="37" fill="#000"/>
<rect x="1351.5" y="163.5" width="4" height="20" fill="#fff" stroke="#000" stroke-width="1"/>
<rect x="1361" y="139" width="1" height="27" fill="#000"/>
<rect x="1359.5" y="142.5" width="4" height="21" fill="#fff" stroke="#000" stroke-width="1"/>
<rect x="1369" y="100" width="1" height="44" fill="#000"/>
<rect x="1367.5" y="110.5" width="4" height="28" fill="#fff" stroke="#000" stroke-width="1"/>
<rect x="1377" y="101" width="1" height="8" fill="#000"/>
<rect x="1375" y="102" width="5" height="5" fill="#000"/>
<rect x="1385" y="102" width="1" height="22" fill="#000"/>
<rect x="1383" y="107" width="5" height="10" fill="#000"/>
<rect x="1393" y="100" width="1" height="24" fill="#000"/>
<rect x="1391.5" y="110.5" width="4" height="5" fill="#fff" stroke="#000" stroke-width="1"/>
<rect x="1401" y="84" width="1" height="28" fill="#000"/>
<rect x="1399.5" y="89.5" width="4" height="21" fill="#fff" stroke="#000" stroke-width="1"/>
<rect x="1409" y="51" width="1" height="42" fill="#000"/>
<rect x="1407.5" y="58.5" width="4" height="31" fill="#fff" stroke="#000" stroke-width="1"/>
<rect x="1417" y="59" width="1" height="51" fill="#000"/>
<rect x="1415" y="59" width="5" height="32" fill="#000"/>
<rect x="1425" y="94" width="1" height="15" fill="#000"/>
<rect x="1423" y="94" width="5" height="14" fill="#000"/>
<rect x="1433" y="96" width="1" height="17" fill="#000"/>
<rect x="1431.5" y="96.5" width="4" height="10" fill="#fff" stroke="#000" stroke-width="1"/>
</g>
<g shape-rendering="crispEdges" fill="#c0c0c0">
<rect x="1" y="662" width="1" height="67"/>
<rect x="9" y="665" width="1" height="64"/>
<rect x="17" y="673" width="1" height="56"/>
<rect x="25" y="676" width="1" height="53"/>
<rect x="33" y="683" width="1" height="46"/>
<rect x="41" y="689" width="1" height="40"/>
<rect x="49" y="691" width="1" height="38"/>
<rect x="57" y="694" width="1" height="35"/>
<rect x="65" y="700" width="1" height="29"/>
<rect x="73" y="703" width="1" height="26"/>
<rect x="81" y="706" width="1" height="23"/>
<rect x="89" y="708" width="1" height="21"/>
<rect x="97" y="703" width="1" height="26"/>
<rect x="105" y="703" width="1" height="26"/>
<rect x="113" y="703" width="1" height="26"/>
<rect x="121" y="703" width="1" height="26"/>
<rect x="129" y="701" width="1" height="28"/>
<rect x="137" y="700" width="1" height="29"/>
<rect x="145" y="701" width="1" height="28"/>
<rect x="153" y="697" width="1" height="32"/>
<rect x="161" y="693" width="1" height="36"/>
<rect x="169" y="693" width="1" height="36"/>
<rect x="177" y="695" width="1" height="34"/>
<rect x="185" y="695" width="1" height="34"/>
<rect x="193" y="695" width="1" height="34"/>
<rect x="201" y="696" width="1" height="33"/>
<rect x="209" y="698" width="1" height="31"/>
<rect x="217" y="702" width="1" height="27"/>
<rect x="225" y="709" width="1" height="20"/>
<rect x="233" y="714" width="1" height="15"/>
<rect x="241" y="713" width="1" height="16"/>
<rect x="249" y="715" width="1" height="14"/>
<rect x="257" y="718" width="1" height="11"/>
<rect x="265" y="724" width="1" height="5"/>
<rect x="273" y="729" width="1" height="6"/>
<rect x="281" y="729" width="1" height="13"/>
<rect x="289" y="729" width="1" height="12"/>
<rect x="297" y="729" width="1" height="9"/>
<rect x="305" y="729" width="1" height="8"/>
<rect x="313" y="729" width="1" height="7"/>
<rect x="321" y="729" width="1" height="6"/>
<rect x="329" y="729" width="1" height="5"/>
<rect x="337" y="729" width="1" height="2"/>
<rect x="345" y="725" width="1" height="4"/>
<rect x="353" y="714" width="1" height="15"/>
<rect x="361" y="703" width="1" height="26"/>
<rect x="369" y="698" width="1" height="31"/>
<rect x="377" y="694" width="1" height="35"/>
<rect x="385" y="692" width="1" height="37"/>
<rect x="393" y="693" width="1" height="36"/>
<rect x="401" y="694" width="1" height="35"/>
<rect x="409" y="694" width="1" height="35"/>
<rect x="417" y="697" width="1" height="32"/>
<rect x="425" y="700" width="1" height="29"/>
<rect x="433" y="696" width="1" height="33"/>
<rect x="441" y="694" width="1" height="35"/>
<rect x="449" y="691" width="1" height="38"/>
<rect x="457" y="691" width="1" height="38"/>
<rect x="465" y="696" width="1" height="33"/>
<rect x="473" y="697" width="1" height="32"/>
<rect x="481" y="699" width="1" height="30"/>
<rect x="489" y="698" width="1" height="31"/>
<rect x="497" y="693" width="1" height="36"/>
<rect x="505" y="697" width="1" height="32"/>
<rect x="513" y="699" width="1" height="30"/>
<rect x="521" y="702" width="1" height="27"/>
<rect x="529" y="703" width="1" height="26"/>
<rect x="537" y="712" width="1" height="17"/>
<rect x="545" y="714" width="1" height="15"/>
<rect x="553" y="716" width="1" height="13"/>
<rect x="561" y="715" width="1" height="14"/>
<rect x="569" y="713" width="1" height="16"/>
<rect x="577" y="711" width="1" height="18"/>
<rect x="585" y="711" width="1" height="18"/>
<rect x="593" y="711" width="1" height="18"/>
<rect x="601" y="713" width="1" height="16"/>
<rect x="609" y="716" width="1" height="13"/>
<rect x="617" y="718" width="1" height="11"/>
<rect x="625" y="725" width="1" height="4"/>
<rect x="633" y="726" width="1" height="3"/>
<rect x="641" y="727" width="1" height="2"/>
<rect x="649" y="727" width="1" height="2"/>
<rect x="657" y="726" width="1" height="3"/>
<rect x="665" y="724" width="1" height="5"/>
<rect x="673" y="720" width="1" height="9"/>
<rect x="681" y="715" width="1" height="14"/>
<rect x="689" y="715" width="1" height="14"/>
<rect x="697" y="714" width="1" height="15"/>
<rect x="705" y="717" width="1" height="12"/>
<rect x="713" y="717" width="1" height="12"/>
<rect x="721" y="715" width="1" height="14"/>
<rect x="729" y="716" width="1" height="13"/>
<rect x="737" y="713" width="1" height="16"/>
<rect x="745" y="708" width="1" height="21"/>
<rect x="753" y="706" width="1" height="23"/>
<rect x="761" y="705" width="1" height="24"/>
<rect x="769" y="703" width="1" height="26"/>
<rect x="777" y="704" width="1" height="25"/>
<rect x="785" y="705" width="1" height="24"/>
<rect x="793" y="706" width="1" height="23"/>
<rect x="801" y="707" width="1" height="22"/>
<rect x="809" y="708" width="1" height="21"/>
<rect x="817" y="708" width="1" height="21"/>
<rect x="825" y="707" width="1" height="22"/>
<rect x="833" y="709" width="1" height="20"/>
<rect x="841" y="710" width="1" height="19"/>
<rect x="849" y="711" width="1" height="18"/>
<rect x="857" y="713" width="1" height="16"/>
<rect x="865" y="716" width="1" height="13"/>
<rect x="873" y="719" width="1" height="10"/>
<rect x="881" y="726" width="1" height="3"/>
<rect x="889" y="728" width="1" height="1"/>
<rect x="897" y="729" width="1" height="4"/>
<rect x="905" y="729" width="1" height="8"/>
<rect x="913" y="729" width="1" height="5"/>
<rect x="921" y="726" width="1" height="3"/>
<rect x="929" y="718" width="1" height="11"/>
<rect x="937" y="708" width="1" height="21"/>
<rect x="945" y="696" width="1" height="33"/>
<rect x="953" y="684" width="1" height="45"/>
<rect x="961" y="664" width="1" height="65"/>
<rect x="969" y="651" width="1" height="78"/>
<rect x="977" y="636" width="1" height="93"/>
<rect x="985" y="628" width="1" height="101"/>
<rect x="993" y="618" width="1" height="111"/>
<rect x="1001" y="610" width="1" height="119"/>
<rect x="1009" y="599" width="1" height="130"/>
<rect x="1017" y="595" width="1" height="134"/>
<rect x="1025" y="598" width="1" height="131"/>
<rect x="1033" y="605" width="1" height="124"/>
<rect x="1041" y="607" width="1" height="122"/>
<rect x="1049" y="610" width="1" height="119"/>
<rect x="1057" y="610" width="1" height="119"/>
<rect x="1065" y="602" width="1" height="127"/>
<rect x="1073" y="601" width="1" height="128"/>
<rect x="1081" y="599" width="1" height="130"/>
<rect x="1089" y="593" width="1" height="136"/>
<rect x="1097" y="589" width="1" height="140"/>
<rect x="1105" y="592" width="1" height="137"/>
<rect x="1113" y="591" width="1" height="138"/>
<rect x="1121" y="594" width="1" height="135"/>
<rect x="1129" y="599" width="1" height="130"/>
<rect x="1137" y="602" width="1" height="127"/>
<rect x="1145" y="605" width="1" height="124"/>
<rect x="1153" y="617" width="1" height="112"/>
<rect x="1161" y="626" width="1" height="103"/>
<rect x="1169" y="632" width="1" height="97"/>
<rect x="1177" y="637" width="1" height="92"/>
<rect x="1185" y="644" width="1" height="85"/>
<rect x="1193" y="649" width="1" height="80"/>
<rect x="1201" y="655" width="1" height="74"/>
<rect x="1209" y="657" width="1" height="72"/>
<rect x="1217" y="660" width="1" height="69"/>
<rect x="1225" y="664" width="1" height="65"/>
<rect x="1233" y="669" width="1" height="60"/>
<rect x="1241" y="671" width="1" height="58"/>
<rect x="1249" y="678" width="1" height="51"/>
<rect x="1257" y="684" width="1" height="45"/>
<rect x="1265" y="687" width="1" height="42"/>
<rect x="1273" y="690" width="1" height="39"/>
<rect x="1281" y="693" width="1" height="36"/>
<rect x="1289" y="695" width="1" height="34"/>
<rect x="1297" y="692" width="1" height="37"/>
<rect x="1305" y="680" width="1" height="49"/>
<rect x="1313" y="673" width="1" height="56"/>
<rect x="1321" y="667" width="1" height="62"/>
<rect x="1329" y="662" width="1" height="67"/>
<rect x="1337" y="667" width="1" height="62"/>
<rect x="1345" y="672" width="1" height="57"/>
<rect x="1353" y="671" width="1" height="58"/>
<rect x="1361" y="666" width="1" height="63"/>
<rect x="1369" y="656" width="1" height="73"/>
<rect x="1377" y="648" width="1" height="81"/>
<rect x="1385" y="645" width="1" height="84"/>
<rect x="1393" y="642" width="1" height="87"/>
<rect x="1401" y="636" width="1" height="93"/>
<rect x="1409" y="625" width="1" height="104"/>
<rect x="1417" y="625" width="1" height="104"/>
<rect x="1425" y="630" width="1" height="99"/>
<rect x="1433" y="632" width="1" height="97"/>
</g>
<path d="M1,642h1v1h-1zM2,643h1v1h-1zM3,644h1v1h-1zM7,647h1v1h-1zM8,647h1v1h-1zM9,648h1v1h-1zM13,651h1v1h-1zM14,652h1v1h-1zM15,653h1v1h-1zM19,655h1v1h-1zM20,656h1v1h-1zM21,656h1v1h-1zM25,658h1v1h-1zM26,659h1v1h-1zM27,659h1v1h-1zM31,661h1v1h-1zM32,662h1v1h-1zM33,662h1v1h-1zM37,665h1v1h-1zM38,665h1v1h-1zM39,666h1v1h-1zM43,668h1v1h-1zM44,669h1v1h-1zM45,670h1v1h-1zM49,672h1v1h-1zM50,673h1v1h-1zM51,673h1v1h-1zM55,676h1v1h-1zM56,676h1v1h-1zM57,677h1v1h-1zM61,679h1v1h-1zM62,680h1v1h-1zM63,680h1v1h-1zM67,682h1v1h-1zM68,683h1v1h-1zM69,683h1v1h-1zM73,685h1v1h-1zM74,686h1v1h-1zM75,686h1v1h-1zM79,689h1v1h-1zM80,689h1v1h-1zM81,690h1v1h-1zM85,692h1v1h-1zM86,693h1v1h-1zM87,693h1v1h-1zM91,695h1v1h-1zM92,695h1v1h-1zM93,696h1v1h-1zM97,697h1v1h-1zM98,697h1v1h-1zM99,698h1v1h-1zM103,699h1v1h-1zM104,699h1v1h-1zM105,699h1v1h-1zM109,700h1v1h-1zM110,700h1v1h-1zM111,701h1v1h-1zM115,701h1v1h-1zM116,701h1v1h-1zM117,702h1v1h-1zM121,702h1v1h-1zM122,702h1v1h-1zM123,702h1v1h-1zM127,703h1v1h-1zM128,703h1v1h-1zM129,703h1v1h-1zM133,703h1v1h-1zM134,703h1v1h-1zM135,703h1v1h-1zM139,703h1v1h-1zM140,703h1v1h-1zM141,703h1v1h-1zM145,703h1v1h-1zM146,703h1v1h-1zM147,703h1v1h-1zM151,702h1v1h-1zM152,702h1v1h-1zM153,702h1v1h-1zM157,701h1v1h-1zM158,701h1v1h-1zM159,700h1v1h-1zM163,700h1v1h-1zM164,700h1v1h-1zM165,699h1v1h-1zM169,699h1v1h-1zM170,699h1v1h-1zM171,699h1v1h-1zM175,698h1v1h-1zM176,698h1v1h-1zM177,698h1v1h-1zM181,697h1v1h-1zM182,697h1v1h-1zM183,697h1v1h-1zM187,697h1v1h-1zM188,697h1v1h-1zM189,696h1v1h-1zM193,696h1v1h-1zM194,696h1v1h-1zM195,696h1v1h-1zM199,696h1v1h-1zM200,696h1v1h-1zM201,696h1v1h-1zM205,695h1v1h-1zM206,695h1v1h-1zM207,695h1v1h-1zM211,695h1v1h-1zM212,695h1v1h-1zM213,696h1v1h-1zM217,696h1v1h-1zM218,696h1v1h-1zM219,696h1v1h-1zM223,697h1v1h-1zM224,697h1v1h-1zM225,697h1v1h-1zM229,698h1v1h-1zM230,698h1v1h-1zM231,699h1v1h-1zM235,700h1v1h-1zM236,700h1v1h-1zM237,700h1v1h-1zM241,701h1v1h-1zM242,701h1v1h-1zM243,702h1v1h-1zM247,703h1v1h-1zM248,704h1v1h-1zM249,704h1v1h-1zM253,705h1v1h-1zM254,705h1v1h-1zM255,706h1v1h-1zM259,707h1v1h-1zM260,708h1v1h-1zM261,708h1v1h-1zM265,710h1v1h-1zM266,711h1v1h-1zM267,711h1v1h-1zM271,713h1v1h-1zM272,714h1v1h-1zM273,714h1v1h-1zM277,717h1v1h-1zM278,717h1v1h-1zM279,718h1v1h-1zM283,720h1v1h-1zM284,721h1v1h-1zM285,721h1v1h-1zM289,723h1v1h-1zM290,723h1v1h-1zM291,724h1v1h-1zM295,725h1v1h-1zM296,726h1v1h-1zM297,726h1v1h-1zM301,728h1v1h-1zM302,728h1v1h-1zM303,728h1v1h-1zM307,730h1v1h-1zM308,730h1v1h-1zM309,730h1v1h-1zM313,731h1v1h-1zM314,731h1v1h-1zM315,732h1v1h-1zM319,733h1v1h-1zM320,733h1v1h-1zM321,733h1v1h-1zM325,734h1v1h-1zM326,734h1v1h-1zM327,735h1v1h-1zM331,735h1v1h-1zM332,735h1v1h-1zM333,736h1v1h-1zM337,736h1v1h-1zM338,736h1v1h-1zM339,736h1v1h-1zM343,735h1v1h-1zM344,735h1v1h-1zM345,735h1v1h-1zM349,733h1v1h-1zM350,733h1v1h-1zM351,733h1v1h-1zM355,731h1v1h-1zM356,730h1v1h-1zM357,730h1v1h-1zM361,728h1v1h-1zM362,727h1v1h-1zM363,727h1v1h-1zM367,724h1v1h-1zM368,724h1v1h-1zM369,723h1v1h-1zM373,720h1v1h-1zM374,720h1v1h-1zM375,719h1v1h-1zM379,717h1v1h-1zM380,716h1v1h-1zM381,716h1v1h-1zM385,714h1v1h-1zM386,713h1v1h-1zM387,713h1v1h-1zM391,710h1v1h-1zM392,710h1v1h-1zM393,709h1v1h-1zM397,706h1v1h-1zM398,706h1v1h-1zM399,705h1v1h-1zM403,703h1v1h-1zM404,702h1v1h-1zM405,702h1v1h-1zM409,700h1v1h-1zM410,700h1v1h-1zM411,699h1v1h-1zM415,698h1v1h-1zM416,697h1v1h-1zM417,697h1v1h-1zM421,696h1v1h-1zM422,696h1v1h-1zM423,696h1v1h-1zM427,696h1v1h-1zM428,696h1v1h-1zM429,695h1v1h-1zM433,695h1v1h-1zM434,695h1v1h-1zM435,695h1v1h-1zM439,694h1v1h-1zM440,694h1v1h-1zM441,694h1v1h-1zM445,694h1v1h-1zM446,694h1v1h-1zM447,694h1v1h-1zM451,694h1v1h-1zM452,694h1v1h-1zM453,694h1v1h-1zM457,694h1v1h-1zM458,694h1v1h-1zM459,694h1v1h-1zM463,694h1v1h-1zM464,694h1v1h-1zM465,694h1v1h-1zM469,695h1v1h-1zM470,695h1v1h-1zM471,695h1v1h-1zM475,695h1v1h-1zM476,695h1v1h-1zM477,695h1v1h-1zM481,695h1v1h-1zM482,695h1v1h-1zM483,695h1v1h-1zM487,695h1v1h-1zM488,695h1v1h-1zM489,695h1v1h-1zM493,695h1v1h-1zM494,695h1v1h-1zM495,695h1v1h-1zM499,695h1v1h-1zM500,695h1v1h-1zM501,695h1v1h-1zM505,695h1v1h-1zM506,695h1v1h-1zM507,695h1v1h-1zM511,695h1v1h-1zM512,695h1v1h-1zM513,695h1v1h-1zM517,696h1v1h-1zM518,696h1v1h-1zM519,697h1v1h-1zM523,697h1v1h-1zM524,697h1v1h-1zM525,698h1v1h-1zM529,698h1v1h-1zM530,698h1v1h-1zM531,699h1v1h-1zM535,700h1v1h-1zM536,700h1v1h-1zM537,700h1v1h-1zM541,701h1v1h-1zM542,701h1v1h-1zM543,701h1v1h-1zM547,702h1v1h-1zM548,702h1v1h-1zM549,702h1v1h-1zM553,703h1v1h-1zM554,703h1v1h-1zM555,704h1v1h-1zM559,705h1v1h-1zM560,705h1v1h-1zM561,705h1v1h-1zM565,706h1v1h-1zM566,706h1v1h-1zM567,707h1v1h-1zM571,708h1v1h-1zM572,708h1v1h-1zM573,708h1v1h-1zM577,709h1v1h-1zM578,709h1v1h-1zM579,709h1v1h-1zM583,710h1v1h-1zM584,710h1v1h-1zM585,710h1v1h-1zM589,711h1v1h-1zM590,711h1v1h-1zM591,711h1v1h-1zM595,711h1v1h-1zM596,711h1v1h-1zM597,712h1v1h-1zM601,712h1v1h-1zM602,712h1v1h-1zM603,712h1v1h-1zM607,713h1v1h-1zM608,713h1v1h-1zM609,713h1v1h-1zM613,713h1v1h-1zM614,713h1v1h-1zM615,713h1v1h-1zM619,713h1v1h-1zM620,713h1v1h-1zM621,714h1v1h-1zM625,714h1v1h-1zM626,714h1v1h-1zM627,714h1v1h-1zM631,715h1v1h-1zM632,715h1v1h-1zM633,715h1v1h-1zM637,716h1v1h-1zM638,716h1v1h-1zM639,717h1v1h-1zM643,718h1v1h-1zM644,718h1v1h-1zM645,718h1v1h-1zM649,719h1v1h-1zM650,719h1v1h-1zM651,719h1v1h-1zM655,720h1v1h-1zM656,720h1v1h-1zM657,720h1v1h-1zM661,721h1v1h-1zM662,721h1v1h-1zM663,722h1v1h-1zM667,722h1v1h-1zM668,722h1v1h-1zM669,723h1v1h-1zM673,723h1v1h-1zM674,723h1v1h-1zM675,723h1v1h-1zM679,723h1v1h-1zM680,723h1v1h-1zM681,723h1v1h-1zM685,722h1v1h-1zM686,722h1v1h-1zM687,722h1v1h-1zM691,722h1v1h-1zM692,722h1v1h-1zM693,721h1v1h-1zM697,721h1v1h-1zM698,721h1v1h-1zM699,721h1v1h-1zM703,720h1v1h-1zM704,720h1v1h-1zM705,720h1v1h-1zM709,719h1v1h-1zM710,719h1v1h-1zM711,719h1v1h-1zM715,719h1v1h-1zM716,719h1v1h-1zM717,718h1v1h-1zM721,718h1v1h-1zM722,718h1v1h-1zM723,718h1v1h-1zM727,717h1v1h-1zM728,717h1v1h-1zM729,717h1v1h-1zM733,716h1v1h-1zM734,716h1v1h-1zM735,715h1v1h-1zM739,715h1v1h-1zM740,715h1v1h-1zM741,714h1v1h-1zM745,714h1v1h-1zM746,714h1v1h-1zM747,714h1v1h-1zM751,713h1v1h-1zM752,713h1v1h-1zM753,713h1v1h-1zM757,712h1v1h-1zM758,712h1v1h-1zM759,712h1v1h-1zM763,712h1v1h-1zM764,712h1v1h-1zM765,711h1v1h-1zM769,711h1v1h-1zM770,711h1v1h-1zM771,710h1v1h-1zM775,709h1v1h-1zM776,709h1v1h-1zM777,709h1v1h-1zM781,708h1v1h-1zM782,708h1v1h-1zM783,708h1v1h-1zM787,708h1v1h-1zM788,708h1v1h-1zM789,707h1v1h-1zM793,707h1v1h-1zM794,707h1v1h-1zM795,707h1v1h-1zM799,706h1v1h-1zM800,706h1v1h-1zM801,706h1v1h-1zM805,705h1v1h-1zM806,705h1v1h-1zM807,705h1v1h-1zM811,705h1v1h-1zM812,705h1v1h-1zM813,705h1v1h-1zM817,705h1v1h-1zM818,705h1v1h-1zM819,705h1v1h-1zM823,705h1v1h-1zM824,705h1v1h-1zM825,705h1v1h-1zM829,706h1v1h-1zM830,706h1v1h-1zM831,706h1v1h-1zM835,706h1v1h-1zM836,706h1v1h-1zM837,707h1v1h-1zM841,707h1v1h-1zM842,707h1v1h-1zM843,707h1v1h-1zM847,708h1v1h-1zM848,708h1v1h-1zM849,708h1v1h-1zM853,708h1v1h-1zM854,708h1v1h-1zM855,708h1v1h-1zM859,709h1v1h-1zM860,709h1v1h-1zM861,709h1v1h-1zM865,710h1v1h-1zM866,710h1v1h-1zM867,710h1v1h-1zM871,711h1v1h-1zM872,711h1v1h-1zM873,711h1v1h-1zM877,712h1v1h-1zM878,712h1v1h-1zM879,713h1v1h-1zM883,714h1v1h-1zM884,714h1v1h-1zM885,714h1v1h-1zM889,715h1v1h-1zM890,715h1v1h-1zM891,716h1v1h-1zM895,717h1v1h-1zM896,718h1v1h-1zM897,718h1v1h-1zM901,720h1v1h-1zM902,720h1v1h-1zM903,720h1v1h-1zM907,722h1v1h-1zM908,722h1v1h-1zM909,723h1v1h-1zM913,724h1v1h-1zM914,724h1v1h-1zM915,724h1v1h-1zM919,725h1v1h-1zM920,725h1v1h-1zM921,725h1v1h-1zM925,726h1v1h-1zM926,726h1v1h-1zM927,726h1v1h-1zM931,726h1v1h-1zM932,726h1v1h-1zM933,725h1v1h-1zM937,725h1v1h-1zM938,725h1v1h-1zM939,724h1v1h-1zM943,723h1v1h-1zM944,722h1v1h-1zM945,722h1v1h-1zM949,720h1v1h-1zM950,719h1v1h-1zM951,719h1v1h-1zM955,716h1v1h-1zM956,715h1v1h-1zM957,714h1v1h-1zM961,710h1v1h-1zM962,709h1v1h-1zM963,708h1v1h-1zM966,704h1v1h-1zM967,703h1v1h-1zM968,702h1v1h-1zM971,698h1v1h-1zM972,697h1v1h-1zM973,696h1v1h-1zM976,692h1v1h-1zM976,691h1v1h-1zM977,690h1v1h-1zM980,686h1v1h-1zM981,685h1v1h-1zM981,684h1v1h-1zM984,680h1v1h-1zM985,679h1v1h-1zM986,678h1v1h-1zM988,674h1v1h-1zM989,673h1v1h-1zM990,672h1v1h-1zM992,668h1v1h-1zM993,667h1v1h-1zM994,666h1v1h-1zM996,662h1v1h-1zM997,661h1v1h-1zM998,660h1v1h-1zM1000,656h1v1h-1zM1001,655h1v1h-1zM1002,654h1v1h-1zM1004,650h1v1h-1zM1005,649h1v1h-1zM1005,648h1v1h-1zM1008,644h1v1h-1zM1008,643h1v1h-1zM1009,642h1v1h-1zM1012,638h1v1h-1zM1013,637h1v1h-1zM1013,636h1v1h-1zM1016,632h1v1h-1zM1017,631h1v1h-1zM1018,630h1v1h-1zM1021,626h1v1h-1zM1022,625h1v1h-1zM1023,624h1v1h-1zM1027,620h1v1h-1zM1028,619h1v1h-1zM1029,618h1v1h-1zM1033,615h1v1h-1zM1034,614h1v1h-1zM1035,614h1v1h-1zM1039,611h1v1h-1zM1040,611h1v1h-1zM1041,610h1v1h-1zM1045,608h1v1h-1zM1046,608h1v1h-1zM1047,608h1v1h-1zM1051,606h1v1h-1zM1052,606h1v1h-1zM1053,606h1v1h-1zM1057,605h1v1h-1zM1058,605h1v1h-1zM1059,604h1v1h-1zM1063,603h1v1h-1zM1064,603h1v1h-1zM1065,603h1v1h-1zM1069,603h1v1h-1zM1070,603h1v1h-1zM1071,603h1v1h-1zM1075,603h1v1h-1zM1076,603h1v1h-1zM1077,603h1v1h-1zM1081,603h1v1h-1zM1082,603h1v1h-1zM1083,603h1v1h-1zM1087,602h1v1h-1zM1088,602h1v1h-1zM1089,602h1v1h-1zM1093,601h1v1h-1zM1094,601h1v1h-1zM1095,601h1v1h-1zM1099,601h1v1h-1zM1100,601h1v1h-1zM1101,600h1v1h-1zM1105,600h1v1h-1zM1106,600h1v1h-1zM1107,599h1v1h-1zM1111,598h1v1h-1zM1112,598h1v1h-1zM1113,598h1v1h-1zM1117,597h1v1h-1zM1118,597h1v1h-1zM1119,596h1v1h-1zM1123,596h1v1h-1zM1124,596h1v1h-1zM1125,595h1v1h-1zM1129,595h1v1h-1zM1130,595h1v1h-1zM1131,595h1v1h-1zM1135,595h1v1h-1zM1136,595h1v1h-1zM1137,595h1v1h-1zM1141,596h1v1h-1zM1142,596h1v1h-1zM1143,596h1v1h-1zM1147,597h1v1h-1zM1148,597h1v1h-1zM1149,597h1v1h-1zM1153,598h1v1h-1zM1154,598h1v1h-1zM1155,599h1v1h-1zM1159,600h1v1h-1zM1160,601h1v1h-1zM1161,601h1v1h-1zM1165,604h1v1h-1zM1166,604h1v1h-1zM1167,605h1v1h-1zM1171,607h1v1h-1zM1172,608h1v1h-1zM1173,609h1v1h-1zM1177,611h1v1h-1zM1178,612h1v1h-1zM1179,613h1v1h-1zM1183,616h1v1h-1zM1184,616h1v1h-1zM1185,617h1v1h-1zM1189,620h1v1h-1zM1190,621h1v1h-1zM1191,622h1v1h-1zM1195,625h1v1h-1zM1196,625h1v1h-1zM1197,626h1v1h-1zM1201,629h1v1h-1zM1202,630h1v1h-1zM1203,631h1v1h-1zM1207,634h1v1h-1zM1208,634h1v1h-1zM1209,635h1v1h-1zM1213,639h1v1h-1zM1214,639h1v1h-1zM1215,640h1v1h-1zM1219,643h1v1h-1zM1220,644h1v1h-1zM1221,645h1v1h-1zM1225,647h1v1h-1zM1226,648h1v1h-1zM1227,648h1v1h-1zM1231,651h1v1h-1zM1232,651h1v1h-1zM1233,652h1v1h-1zM1237,654h1v1h-1zM1238,655h1v1h-1zM1239,655h1v1h-1zM1243,657h1v1h-1zM1244,658h1v1h-1zM1245,658h1v1h-1zM1249,660h1v1h-1zM1250,661h1v1h-1zM1251,661h1v1h-1zM1255,664h1v1h-1zM1256,664h1v1h-1zM1257,665h1v1h-1zM1261,667h1v1h-1zM1262,668h1v1h-1zM1263,668h1v1h-1zM1267,670h1v1h-1zM1268,671h1v1h-1zM1269,671h1v1h-1zM1273,673h1v1h-1zM1274,674h1v1h-1zM1275,674h1v1h-1zM1279,676h1v1h-1zM1280,677h1v1h-1zM1281,677h1v1h-1zM1285,679h1v1h-1zM1286,680h1v1h-1zM1287,680h1v1h-1zM1291,682h1v1h-1zM1292,682h1v1h-1zM1293,683h1v1h-1zM1297,684h1v1h-1zM1298,684h1v1h-1zM1299,684h1v1h-1zM1303,685h1v1h-1zM1304,685h1v1h-1zM1305,685h1v1h-1zM1309,685h1v1h-1zM1310,685h1v1h-1zM1311,685h1v1h-1zM1315,685h1v1h-1zM1316,685h1v1h-1zM1317,684h1v1h-1zM1321,684h1v1h-1zM1322,684h1v1h-1zM1323,683h1v1h-1zM1327,682h1v1h-1zM1328,682h1v1h-1zM1329,682h1v1h-1zM1333,680h1v1h-1zM1334,680h1v1h-1zM1335,680h1v1h-1zM1339,678h1v1h-1zM1340,678h1v1h-1zM1341,678h1v1h-1zM1345,677h1v1h-1zM1346,677h1v1h-1zM1347,676h1v1h-1zM1351,675h1v1h-1zM1352,675h1v1h-1zM1353,675h1v1h-1zM1357,673h1v1h-1zM1358,673h1v1h-1zM1359,673h1v1h-1zM1363,671h1v1h-1zM1364,670h1v1h-1zM1365,670h1v1h-1zM1369,668h1v1h-1zM1370,667h1v1h-1zM1371,667h1v1h-1zM1375,665h1v1h-1zM1376,664h1v1h-1zM1377,664h1v1h-1zM1381,662h1v1h-1zM1382,662h1v1h-1zM1383,662h1v1h-1zM1387,660h1v1h-1zM1388,660h1v1h-1zM1389,659h1v1h-1zM1393,658h1v1h-1zM1394,658h1v1h-1zM1395,657h1v1h-1zM1399,656h1v1h-1zM1400,655h1v1h-1zM1401,655h1v1h-1zM1405,653h1v1h-1zM1406,652h1v1h-1zM1407,652h1v1h-1zM1411,650h1v1h-1zM1412,649h1v1h-1zM1413,648h1v1h-1zM1417,646h1v1h-1zM1418,645h1v1h-1zM1419,645h1v1h-1zM1423,642h1v1h-1zM1424,642h1v1h-1zM1425,641h1v1h-1zM1429,639h1v1h-1zM1430,638h1v1h-1zM1431,638h1v1h-1z" fill="#ff0000" shape-rendering="crispEdges"/>
<g shape-rendering="crispEdges">
<line x1="0" y1="787.5" x2="1683" y2="787.5" stroke="#c0c0c0" stroke-width="1" stroke-dasharray="3,3"/>
<line x1="0" y1="838.5" x2="1683" y2="838.5" stroke="#c0c0c0" stroke-width="1" stroke-dasharray="3,3"/>
<line x1="0" y1="899.5" x2="1683" y2="899.5" stroke="#c0c0c0" stroke-width="1" stroke-dasharray="3,3"/>
</g>
<polyline points="1.5,821.3 9.5,825.08 17.5,834.4 25.5,828.55 33.5,834.2 41.5,835.93 49.5,829.95 57.5,832.78 65.5,838.35 73.5,834.77 81.5,837.22 89.5,833.41 97.5,823.15 105.5,830.13 113.5,828.4 121.5,828.4 129.5,825.11 137.5,825.11 145.5,827.21 153.5,818.68 161.5,815.49 169.5,822.31 177.5,828.09 185.5,824.26 193.5,823.71 201.5,824.54 209.5,828.79 217.5,835.33 225.5,847.39 233.5,842.02 241.5,829.9 249.5,837.65 257.5,839.69 265.5,850.33 273.5,862.23 281.5,859.16 289.5,840.07 297.5,836.7 305.5,837.9 313.5,839.76 321.5,837.79 329.5,839.18 337.5,832.95 345.5,823.75 353.5,809.29 361.5,806.25 369.5,815.64 377.5,815.19 385.5,819.21 393.5,823.98 401.5,823.98 409.5,822.15 417.5,831.55 425.5,830.16 433.5,815.23 441.5,816.13 449.5,813.43 457.5,818.28 465.5,837.17 473.5,825.6 481.5,831.37 489.5,823.56 497.5,813.35 505.5,836.31 513.5,832.47 521.5,834.14 529.5,831.06 537.5,847.72 545.5,837.07 553.5,838.55 561.5,832.71 569.5,828.1 577.5,829.86 585.5,831.08 593.5,831.73 601.5,835.7 609.5,838.98 617.5,838.3 625.5,852.42 633.5,839.14 641.5,840.94 649.5,838.35 657.5,834.47 665.5,832.52 673.5,823.98 681.5,821.16 689.5,830 697.5,830.78 705.5,838.47 713.5,834.15 721.5,827.38 729.5,835.34 737.5,824.53 745.5,816.11 753.5,825.47 761.5,825.47 769.5,821.99 777.5,829.32 785.5,828.67 793.5,831.22 801.5,829.03 809.5,828.27 817.5,825.16 825.5,824.37 833.5,830.97 841.5,830.97 849.5,829.98 857.5,832.48 865.5,841.88 873.5,845.15 881.5,859.12 889.5,847.18 897.5,854.77 905.5,858.64 913.5,831.35 921.5,818.16 929.5,813.46 937.5,805.69 945.5,799.27 953.5,795.04 961.5,783.77 969.5,787.82 977.5,784.08 985.5,788.16 993.5,784.72 1001.5,783.4 1009.5,778.89 1017.5,791.94 1025.5,804.24 1033.5,811.16 1041.5,805.75 1049.5,805.75 1057.5,800.6 1065.5,791.56 1073.5,803.76 1081.5,800 1089.5,795.34 1097.5,794.33 1105.5,804.61 1113.5,800.3 1121.5,805.59 1129.5,807.97 1137.5,805.4 1145.5,804.54 1153.5,824.47 1161.5,821.91 1169.5,818.65 1177.5,816.5 1185.5,824.13 1193.5,821.31 1201.5,822.55 1209.5,817.13 1217.5,819.81 1225.5,821.2 1233.5,822.66 1241.5,819.12 1249.5,832.04 1257.5,832.04 1265.5,827.31 1273.5,828.85 1281.5,827.57 1289.5,825.6 1297.5,815 1305.5,796.59 1313.5,803.77 1321.5,802.75 1329.5,800.37 1337.5,826.7 1345.5,827.89 1353.5,818 1361.5,810.5 1369.5,801.32 1377.5,800.56 1385.5,807.17 1393.5,805.05 1401.5,799.21 1409.5,792.18 1417.5,811.62 1425.5,820.13 1433.5,816.46" fill="none" stroke="#1e90ff" stroke-width="1" shape-rendering="crispEdges"/>
<defs>
<linearGradient id="gTab" x1="0" y1="0" x2="0" y2="1"><stop offset="0" stop-color="#fb5858"/><stop offset="1" stop-color="#e23434"/></linearGradient>
<linearGradient id="gBlk" x1="0" y1="0" x2="0" y2="1"><stop offset="0" stop-color="#e03030"/><stop offset="1" stop-color="#b00606"/></linearGradient>
<linearGradient id="gBtn" x1="0" y1="0" x2="0" y2="1"><stop offset="0" stop-color="#f4f4f4"/><stop offset="1" stop-color="#d4d4d4"/></linearGradient>
<linearGradient id="gTb" x1="0" y1="0" x2="0" y2="1"><stop offset="0" stop-color="#f0f0f0"/><stop offset="1" stop-color="#f0f0f0"/></linearGradient>
</defs>
<g shape-rendering="crispEdges">
<rect x="0" y="41" width="217" height="68" fill="#fff"/>
<rect x="0" y="44" width="48" height="25" fill="#c01010"/>
<rect x="0" y="45" width="47" height="23" fill="url(#gTab)"/>
<rect x="0" y="67" width="44" height="1" fill="#900000"/>
<rect x="0" y="68" width="106" height="40" fill="#c01414"/>
<rect x="0" y="69" width="105" height="38" fill="url(#gBlk)"/>
<rect x="163" y="44" width="52" height="25" fill="#c01010"/>
<rect x="164" y="45" width="50" height="23" fill="url(#gTab)"/>
<rect x="167" y="67" width="44" height="1" fill="#900000"/>
<rect x="107" y="68" width="108" height="40" fill="#c01414"/>
<rect x="108" y="69" width="106" height="38" fill="url(#gBlk)"/>
<rect x="164" y="68" width="50" height="2" fill="#e23434"/>
<rect x="1" y="68" width="46" height="0" fill="#e23434"/>
<rect x="50" y="44" width="111" height="22" fill="#a8a8a8"/>
<rect x="51" y="45" width="109" height="20" fill="#fff"/>
<rect x="51" y="45" width="20" height="20" fill="#b0b0b0"/>
<rect x="52" y="46" width="18" height="18" fill="url(#gBtn)"/>
<rect x="71" y="45" width="1" height="20" fill="#b8b8b8"/>
<rect x="140" y="45" width="20" height="20" fill="#b0b0b0"/>
<rect x="141" y="46" width="18" height="18" fill="url(#gBtn)"/>
<rect x="139" y="45" width="1" height="20" fill="#b8b8b8"/>
</g>
<polygon points="58.5,53 63.5,53 61,56" fill="#4a5ab8"/>
<polygon points="147,56 152,56 149.5,53" fill="#4a5ab8"/>
<text x="113" y="59" font-size="12" fill="#000" text-anchor="start" textLength="23.5" lengthAdjust="spacingAndGlyphs" stroke="#000" stroke-width="0.15" >1.00</text>
<text x="8" y="60" font-size="12.4" fill="#fff" text-anchor="start" textLength="27" lengthAdjust="spacingAndGlyphs" stroke="#fff" stroke-width="0.15" >SELL</text>
<text x="176" y="60" font-size="12.4" fill="#fff" text-anchor="start" textLength="24.5" lengthAdjust="spacingAndGlyphs" stroke="#fff" stroke-width="0.15" >BUY</text>
<text x="12" y="99" font-size="11.8" fill="#fff" text-anchor="start" textLength="35.5" lengthAdjust="spacingAndGlyphs" font-weight="bold" >28318</text>
<text x="122" y="99" font-size="11.8" fill="#fff" text-anchor="start" textLength="35.5" lengthAdjust="spacingAndGlyphs" font-weight="bold" >28341</text>
<rect x="51.3" y="95" width="4.4" height="4" rx="1.3" fill="#fff"/>
<path d="M72.6,75.9 L61.4,75.9 L61.4,85.8 C63,85 64.8,84.6 66.4,84.6 C70.2,84.6 72,87.6 72,91.3 C72,95.4 69.6,97.6 66,97.6 C63.6,97.6 61.6,96.8 59.8,95.4" transform="translate(0,0)" fill="none" stroke="#fff" stroke-width="2.4"/>
<rect x="162.3" y="95" width="4.4" height="4" rx="1.3" fill="#fff"/>
<path d="M72.6,75.9 L61.4,75.9 L61.4,85.8 C63,85 64.8,84.6 66.4,84.6 C70.2,84.6 72,87.6 72,91.3 C72,95.4 69.6,97.6 66,97.6 C63.6,97.6 61.6,96.8 59.8,95.4" transform="translate(111,0)" fill="none" stroke="#fff" stroke-width="2.4"/>
<g shape-rendering="crispEdges">
<rect x="1684" y="46" width="2" height="1" fill="#000"/>
<rect x="1684" y="79" width="2" height="1" fill="#000"/>
<rect x="1684" y="112" width="2" height="1" fill="#000"/>
<rect x="1684" y="145" width="2" height="1" fill="#000"/>
<rect x="1684" y="178" width="2" height="1" fill="#000"/>
<rect x="1684" y="211" width="2" height="1" fill="#000"/>
<rect x="1684" y="244" width="2" height="1" fill="#000"/>
<rect x="1684" y="277" width="2" height="1" fill="#000"/>
<rect x="1684" y="310" width="2" height="1" fill="#000"/>
<rect x="1684" y="343" width="2" height="1" fill="#000"/>
<rect x="1684" y="376" width="2" height="1" fill="#000"/>
<rect x="1684" y="409" width="2" height="1" fill="#000"/>
<rect x="1684" y="442" width="2" height="1" fill="#000"/>
<rect x="1684" y="475" width="2" height="1" fill="#000"/>
<rect x="1684" y="508" width="2" height="1" fill="#000"/>
<rect x="1684" y="541" width="2" height="1" fill="#000"/>
<rect x="1684" y="574" width="2" height="1" fill="#000"/>
</g>
<text x="1688.5" y="49.6" font-size="9.5" fill="#000" text-anchor="start" textLength="33" lengthAdjust="spacingAndGlyphs" stroke="#000" stroke-width="0.15" >29025.0</text>
<text x="1688.5" y="82.6" font-size="9.5" fill="#000" text-anchor="start" textLength="33" lengthAdjust="spacingAndGlyphs" stroke="#000" stroke-width="0.15" >28563.0</text>
<text x="1688.5" y="115.6" font-size="9.5" fill="#000" text-anchor="start" textLength="33" lengthAdjust="spacingAndGlyphs" stroke="#000" stroke-width="0.15" >28087.0</text>
<text x="1688.5" y="148.6" font-size="9.5" fill="#000" text-anchor="start" textLength="33" lengthAdjust="spacingAndGlyphs" stroke="#000" stroke-width="0.15" >27625.0</text>
<text x="1688.5" y="181.6" font-size="9.5" fill="#000" text-anchor="start" textLength="33" lengthAdjust="spacingAndGlyphs" stroke="#000" stroke-width="0.15" >27149.0</text>
<text x="1688.5" y="214.6" font-size="9.5" fill="#000" text-anchor="start" textLength="33" lengthAdjust="spacingAndGlyphs" stroke="#000" stroke-width="0.15" >26687.0</text>
<text x="1688.5" y="247.6" font-size="9.5" fill="#000" text-anchor="start" textLength="33" lengthAdjust="spacingAndGlyphs" stroke="#000" stroke-width="0.15" >26211.0</text>
<text x="1688.5" y="280.6" font-size="9.5" fill="#000" text-anchor="start" textLength="33" lengthAdjust="spacingAndGlyphs" stroke="#000" stroke-width="0.15" >25749.0</text>
<text x="1688.5" y="313.6" font-size="9.5" fill="#000" text-anchor="start" textLength="33" lengthAdjust="spacingAndGlyphs" stroke="#000" stroke-width="0.15" >25273.0</text>
<text x="1688.5" y="346.6" font-size="9.5" fill="#000" text-anchor="start" textLength="33" lengthAdjust="spacingAndGlyphs" stroke="#000" stroke-width="0.15" >24811.0</text>
<text x="1688.5" y="379.6" font-size="9.5" fill="#000" text-anchor="start" textLength="33" lengthAdjust="spacingAndGlyphs" stroke="#000" stroke-width="0.15" >24335.0</text>
<text x="1688.5" y="412.6" font-size="9.5" fill="#000" text-anchor="start" textLength="33" lengthAdjust="spacingAndGlyphs" stroke="#000" stroke-width="0.15" >23873.0</text>
<text x="1688.5" y="445.6" font-size="9.5" fill="#000" text-anchor="start" textLength="33" lengthAdjust="spacingAndGlyphs" stroke="#000" stroke-width="0.15" >23397.0</text>
<text x="1688.5" y="478.6" font-size="9.5" fill="#000" text-anchor="start" textLength="33" lengthAdjust="spacingAndGlyphs" stroke="#000" stroke-width="0.15" >22935.0</text>
<text x="1688.5" y="511.6" font-size="9.5" fill="#000" text-anchor="start" textLength="33" lengthAdjust="spacingAndGlyphs" stroke="#000" stroke-width="0.15" >22459.0</text>
<text x="1688.5" y="544.6" font-size="9.5" fill="#000" text-anchor="start" textLength="33" lengthAdjust="spacingAndGlyphs" stroke="#000" stroke-width="0.15" >21997.0</text>
<text x="1688.5" y="577.6" font-size="9.5" fill="#000" text-anchor="start" textLength="33" lengthAdjust="spacingAndGlyphs" stroke="#000" stroke-width="0.15" >21535.0</text>
<rect x="1684" y="728" width="2" height="1" fill="#000" shape-rendering="crispEdges"/>
<text x="1687" y="590.3" font-size="9.5" fill="#000" text-anchor="start" textLength="23" lengthAdjust="spacingAndGlyphs" stroke="#000" stroke-width="0.15" >715.8</text>
<text x="1687" y="732.3" font-size="9.5" fill="#000" text-anchor="start" textLength="17.5" lengthAdjust="spacingAndGlyphs" stroke="#000" stroke-width="0.15" >0.00</text>
<text x="1687" y="746" font-size="9.5" fill="#000" text-anchor="start" textLength="31" lengthAdjust="spacingAndGlyphs" stroke="#000" stroke-width="0.15" >-100.05</text>
<rect x="1684" y="787" width="2" height="1" fill="#000" shape-rendering="crispEdges"/>
<rect x="1684" y="838" width="2" height="1" fill="#000" shape-rendering="crispEdges"/>
<rect x="1684" y="899" width="2" height="1" fill="#000" shape-rendering="crispEdges"/>
<text x="1687" y="762.2" font-size="9.5" fill="#000" text-anchor="start" textLength="16" lengthAdjust="spacingAndGlyphs" stroke="#000" stroke-width="0.15" >100</text>
<text x="1686.5" y="791.6" font-size="9.5" fill="#000" text-anchor="start" textLength="9.5" lengthAdjust="spacingAndGlyphs" stroke="#000" stroke-width="0.15" >80</text>
<text x="1686.5" y="842.6" font-size="9.5" fill="#000" text-anchor="start" textLength="9.5" lengthAdjust="spacingAndGlyphs" stroke="#000" stroke-width="0.15" >50</text>
<text x="1686.5" y="903.6" font-size="9.5" fill="#000" text-anchor="start" textLength="9.5" lengthAdjust="spacingAndGlyphs" stroke="#000" stroke-width="0.15" >15</text>
<text x="1687" y="922.6" font-size="9.5" fill="#000" text-anchor="start" textLength="5" lengthAdjust="spacingAndGlyphs" stroke="#000" stroke-width="0.15" >0</text>
<g shape-rendering="crispEdges">
<rect x="57" y="926" width="1" height="3" fill="#000"/>
<rect x="121" y="926" width="1" height="3" fill="#000"/>
<rect x="185" y="926" width="1" height="3" fill="#000"/>
<rect x="249" y="926" width="1" height="3" fill="#000"/>
<rect x="313" y="926" width="1" height="3" fill="#000"/>
<rect x="377" y="926" width="1" height="3" fill="#000"/>
<rect x="441" y="926" width="1" height="3" fill="#000"/>
<rect x="505" y="926" width="1" height="3" fill="#000"/>
<rect x="569" y="926" width="1" height="3" fill="#000"/>
<rect x="633" y="926" width="1" height="3" fill="#000"/>
<rect x="697" y="926" width="1" height="3" fill="#000"/>
<rect x="761" y="926" width="1" height="3" fill="#000"/>
<rect x="825" y="926" width="1" height="3" fill="#000"/>
<rect x="889" y="926" width="1" height="3" fill="#000"/>
<rect x="953" y="926" width="1" height="3" fill="#000"/>
<rect x="1017" y="926" width="1" height="3" fill="#000"/>
<rect x="1081" y="926" width="1" height="3" fill="#000"/>
<rect x="1145" y="926" width="1" height="3" fill="#000"/>
<rect x="1209" y="926" width="1" height="3" fill="#000"/>
<rect x="1273" y="926" width="1" height="3" fill="#000"/>
<rect x="1337" y="926" width="1" height="3" fill="#000"/>
<rect x="1401" y="926" width="1" height="3" fill="#000"/>
</g>
<text x="-7.5" y="938.2" font-size="10" fill="#000" text-anchor="start" textLength="51.8" stroke="#000" stroke-width="0.15" lengthAdjust="spacing">21 Jun 2020</text>
<text x="56.5" y="938.2" font-size="10" fill="#000" text-anchor="start" textLength="51.8" stroke="#000" stroke-width="0.15" lengthAdjust="spacing">30 Jun 2020</text>
<text x="120.5" y="938.2" font-size="10" fill="#000" text-anchor="start" textLength="43.8" stroke="#000" stroke-width="0.15" lengthAdjust="spacing">9 Jul 2020</text>
<text x="184.5" y="938.2" font-size="10" fill="#000" text-anchor="start" textLength="48.8" stroke="#000" stroke-width="0.15" lengthAdjust="spacing">19 Jul 2020</text>
<text x="248.5" y="938.2" font-size="10" fill="#000" text-anchor="start" textLength="48.8" stroke="#000" stroke-width="0.15" lengthAdjust="spacing">28 Jul 2020</text>
<text x="312.5" y="938.2" font-size="10" fill="#000" text-anchor="start" textLength="48.8" stroke="#000" stroke-width="0.15" lengthAdjust="spacing">6 Aug 2020</text>
<text x="376.5" y="938.2" font-size="10" fill="#000" text-anchor="start" textLength="53.8" stroke="#000" stroke-width="0.15" lengthAdjust="spacing">16 Aug 2020</text>
<text x="440.5" y="938.2" font-size="10" fill="#000" text-anchor="start" textLength="53.8" stroke="#000" stroke-width="0.15" lengthAdjust="spacing">25 Aug 2020</text>
<text x="504.5" y="938.2" font-size="10" fill="#000" text-anchor="start" textLength="47.8" stroke="#000" stroke-width="0.15" lengthAdjust="spacing">3 Sep 2020</text>
<text x="568.5" y="938.2" font-size="10" fill="#000" text-anchor="start" textLength="52.8" stroke="#000" stroke-width="0.15" lengthAdjust="spacing">13 Sep 2020</text>
<text x="632.5" y="938.2" font-size="10" fill="#000" text-anchor="start" textLength="52.8" stroke="#000" stroke-width="0.15" lengthAdjust="spacing">22 Sep 2020</text>
<text x="696.5" y="938.2" font-size="10" fill="#000" text-anchor="start" textLength="45.8" stroke="#000" stroke-width="0.15" lengthAdjust="spacing">1 Oct 2020</text>
<text x="760.5" y="938.2" font-size="10" fill="#000" text-anchor="start" textLength="50.8" stroke="#000" stroke-width="0.15" lengthAdjust="spacing">11 Oct 2020</text>
<text x="824.5" y="938.2" font-size="10" fill="#000" text-anchor="start" textLength="50.8" stroke="#000" stroke-width="0.15" lengthAdjust="spacing">20 Oct 2020</text>
<text x="888.5" y="938.2" font-size="10" fill="#000" text-anchor="start" textLength="50.8" stroke="#000" stroke-width="0.15" lengthAdjust="spacing">29 Oct 2020</text>
<text x="952.5" y="938.2" font-size="10" fill="#000" text-anchor="start" textLength="48.8" stroke="#000" stroke-width="0.15" lengthAdjust="spacing">8 Nov 2020</text>
<text x="1016.5" y="938.2" font-size="10" fill="#000" text-anchor="start" textLength="53.8" stroke="#000" stroke-width="0.15" lengthAdjust="spacing">17 Nov 2020</text>
<text x="1080.5" y="938.2" font-size="10" fill="#000" text-anchor="start" textLength="53.8" stroke="#000" stroke-width="0.15" lengthAdjust="spacing">26 Nov 2020</text>
<text x="1144.5" y="938.2" font-size="10" fill="#000" text-anchor="start" textLength="47.8" stroke="#000" stroke-width="0.15" lengthAdjust="spacing">6 Dec 2020</text>
<text x="1208.5" y="938.2" font-size="10" fill="#000" text-anchor="start" textLength="52.8" stroke="#000" stroke-width="0.15" lengthAdjust="spacing">15 Dec 2020</text>
<text x="1272.5" y="938.2" font-size="10" fill="#000" text-anchor="start" textLength="52.8" stroke="#000" stroke-width="0.15" lengthAdjust="spacing">24 Dec 2020</text>
<text x="1336.5" y="938.2" font-size="10" fill="#000" text-anchor="start" textLength="46.8" stroke="#000" stroke-width="0.15" lengthAdjust="spacing">4 Jan 2021</text>
<text x="1400.5" y="938.2" font-size="10" fill="#000" text-anchor="start" textLength="51.8" stroke="#000" stroke-width="0.15" lengthAdjust="spacing">13 Jan 2021</text>
<polygon points="0,31 0,36 4,36" fill="#000"/>
<text x="7.5" y="36" font-size="9.5" fill="#000" text-anchor="start" textLength="60" lengthAdjust="spacingAndGlyphs" stroke="#000" stroke-width="0.15" >JPN225-,Daily</text>
<text x="74" y="36" font-size="9.5" fill="#000" text-anchor="start" textLength="141" lengthAdjust="spacingAndGlyphs" stroke="#000" stroke-width="0.15" >28167.5 28327.5 28077.5 28320.0</text>
<text x="-1.8" y="592" font-size="9.8" fill="#000" text-anchor="start" textLength="126.5" lengthAdjust="spacingAndGlyphs" stroke="#000" stroke-width="0.15" >MACD(12,26,9) 468.27 443.42</text>
<text x="-2.5" y="764" font-size="9.8" fill="#000" text-anchor="start" textLength="67.5" lengthAdjust="spacingAndGlyphs" stroke="#000" stroke-width="0.15" >RSI(14) 63.1668</text>
<rect x="1685" y="44" width="41" height="11" fill="#ff0000" shape-rendering="crispEdges"/>
<text x="1688.5" y="52.6" font-size="9.5" fill="#fff" text-anchor="start" textLength="33" lengthAdjust="spacingAndGlyphs" stroke="#fff" stroke-width="0.15" >28962.7</text>
<rect x="1685" y="60" width="41" height="11" fill="#ff0000" shape-rendering="crispEdges"/>
<text x="1688.5" y="68.6" font-size="9.5" fill="#fff" text-anchor="start" textLength="33" lengthAdjust="spacingAndGlyphs" stroke="#fff" stroke-width="0.15" >28735.9</text>
<rect x="1685" y="73" width="41" height="11" fill="#32cd32" shape-rendering="crispEdges"/>
<text x="1688.5" y="81.6" font-size="9.5" fill="#fff" text-anchor="start" textLength="33" lengthAdjust="spacingAndGlyphs" stroke="#fff" stroke-width="0.15" >28551.6</text>
<rect x="1685" y="91" width="41" height="11" fill="#000000" shape-rendering="crispEdges"/>
<text x="1688.5" y="99.6" font-size="9.5" fill="#fff" text-anchor="start" textLength="33" lengthAdjust="spacingAndGlyphs" stroke="#fff" stroke-width="0.15" >28320.0</text>
<rect x="1685" y="106" width="41" height="11" fill="#0000ff" shape-rendering="crispEdges"/>
<text x="1688.5" y="114.6" font-size="9.5" fill="#fff" text-anchor="start" textLength="33" lengthAdjust="spacingAndGlyphs" stroke="#fff" stroke-width="0.15" >28083.9</text>
<rect x="1685" y="122" width="41" height="11" fill="#0000ff" shape-rendering="crispEdges"/>
<text x="1688.5" y="130.6" font-size="9.5" fill="#fff" text-anchor="start" textLength="33" lengthAdjust="spacingAndGlyphs" stroke="#fff" stroke-width="0.15" >27857.1</text>
<polygon points="1441,25 1450,25 1445.5,30" fill="#c0c0c0"/>
<rect x="1390" y="76" width="93" height="8" fill="#00ff00" shape-rendering="crispEdges"/>
<rect x="1330.5" y="41.5" width="61" height="18" fill="#fff" stroke="#ff0000" stroke-width="1" shape-rendering="crispEdges"/>
<text x="1332" y="56.8" font-size="16.5" fill="#ff0000" text-anchor="start" textLength="59" lengthAdjust="spacingAndGlyphs" stroke="#ff0000" stroke-width="0.15" >28962.7</text>
<rect x="1300.5" y="67.5" width="73" height="24" fill="#fff" stroke="#ff0000" stroke-width="1" shape-rendering="crispEdges"/>
<text x="1301.5" y="88.2" font-size="22" fill="#ff0000" text-anchor="start" textLength="72" lengthAdjust="spacingAndGlyphs" stroke="#ff0000" stroke-width="0.15" >28551.6</text>
<path d="M1500.9,81.6 L1492.3,87.6 M1498.2,84.4 L1507.4,84.1 L1492.3,91.5 M1497.9,83.9 L1502.2,90.5 M1500.9,89.2 L1492.9,95.8 M1500.5,92.5 L1508.4,92.2 L1492,99.4 M1498.5,93.8 L1500.5,96.5 M1520.6,81.3 L1523.6,83.3 M1514,86.6 L1515.3,84.3 L1530.8,84.6 L1529.4,86.9 M1520.3,86.2 L1514,91.2 M1524.2,86.4 L1529.8,89.2 M1516.3,91.5 L1528.5,91.5 M1522.3,91.5 L1522.3,98.4 M1513.7,98.4 L1531.5,98.4 M1535.1,84.5 L1542.6,84.5 M1539.3,81.4 L1535.9,89.6 L1542.6,89.6 M1539.7,87.2 L1539.7,99.8 M1535.1,95.6 L1543.5,93.3 M1543.2,85.3 L1552.7,84.7 M1548.5,81.4 L1545.5,92.3 M1541.6,89.5 L1553.5,88.7 M1544.7,92.1 L1551.6,92.1 L1546.6,95.9 L1550.4,99.4 M1556.9,86.4 L1563.8,85.6 M1561.9,81.4 L1561.9,99.2 L1558.4,98.4 M1557.3,92.1 L1564.5,89.1 M1574.5,81.8 L1566.8,83.3 M1566.4,83.3 L1566.4,90 Q1566,96 1562.8,99.8 M1566.4,88.3 L1575.6,88.3 M1571.8,88.3 L1571.8,99.8 M1588.2,81.4 L1588.2,88.3 M1588.2,84.3 L1596.2,84.3 M1583.2,88.3 L1594.3,88.3 L1594.3,93.6 L1583.2,93.6 Z M1581.8,96.3 L1580.3,99.5 M1586.3,96.3 L1587,98.8 M1590.5,96.3 L1591.6,98.8 M1594.7,96.3 L1596.6,99.4" fill="none" stroke="#00ff00" stroke-width="1.25" stroke-linecap="square" stroke-linejoin="miter"/>
<line x1="1254.0" y1="235.5" x2="1411.1" y2="60.4" stroke="#ff0000" stroke-width="3.8" shape-rendering="crispEdges"/><polygon points="1415.5,55.5 1412.2,67.4 1404.1,60.0" fill="#ff0000" shape-rendering="crispEdges"/>
<line x1="1416.0" y1="57.0" x2="1439.2" y2="112.9" stroke="#ff0000" stroke-width="3.6" shape-rendering="crispEdges"/><polygon points="1442.0,119.5 1432.3,110.5 1442.5,106.3" fill="#ff0000" shape-rendering="crispEdges"/>
<line x1="1097.0" y1="580.5" x2="1288.3" y2="691.2" stroke="#ff0000" stroke-width="3.6" shape-rendering="crispEdges"/><polygon points="1294.0,694.5 1282.0,693.3 1287.0,684.7" fill="#ff0000" shape-rendering="crispEdges"/>
<line x1="1292.0" y1="693.5" x2="1436.4" y2="632.6" stroke="#ff0000" stroke-width="3.6" shape-rendering="crispEdges"/><polygon points="1442.5,630.0 1434.3,638.9 1430.4,629.7" fill="#ff0000" shape-rendering="crispEdges"/>
</svg>
</body></html>
